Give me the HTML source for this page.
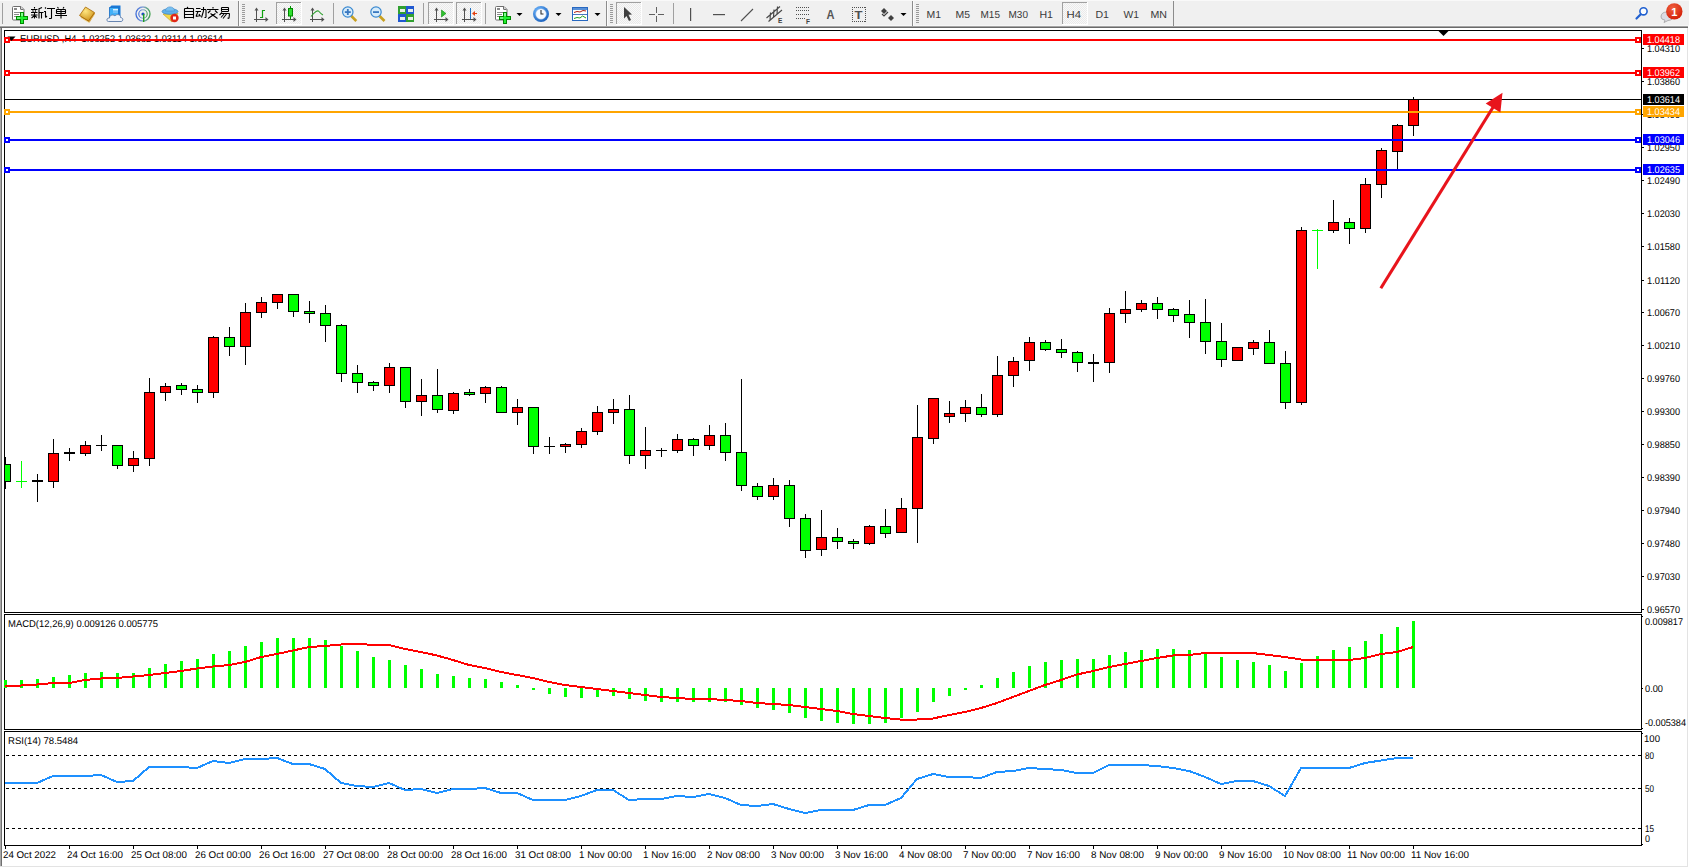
<!DOCTYPE html>
<html><head><meta charset="utf-8"><title>MT4</title>
<style>
html,body{margin:0;padding:0;background:#fff;overflow:hidden;}
svg{display:block;}
text{font-family:"Liberation Sans",sans-serif;}
.g text{text-rendering:geometricPrecision;}
</style></head><body>
<svg width="1689" height="868" viewBox="0 0 1689 868">
<rect x="0" y="0" width="1689" height="868" fill="#ffffff" />
<rect x="0" y="0" width="1689" height="26" fill="#f0f0f0" />
<rect x="0" y="0" width="1689" height="1" fill="#f9f9f9" />
<rect x="0" y="25" width="1689" height="1" fill="#f6f6f6" />
<rect x="0" y="26" width="1688" height="1" fill="#a4a4a4" />
<rect x="0" y="27" width="1688" height="1" fill="#6a6a6a" />
<rect x="1688" y="26" width="1" height="2" fill="#ffffff" />
<rect x="0" y="28" width="1" height="838" fill="#a8a8a8" />
<rect x="1" y="28" width="1" height="838" fill="#707070" />
<rect x="1687" y="28" width="1" height="839" fill="#e3e3e3" />
<rect x="0" y="866" width="1688" height="1" fill="#e3e3e3" />
<defs><pattern id="dither" width="2" height="2" patternUnits="userSpaceOnUse"><rect width="2" height="2" fill="#f9f9f9"/><rect width="1" height="1" fill="#eaeaea"/><rect x="1" y="1" width="1" height="1" fill="#eaeaea"/></pattern><radialGradient id="gold" cx="0.4" cy="0.3" r="0.8"><stop offset="0" stop-color="#ffe680"/><stop offset="1" stop-color="#c88a10"/></radialGradient><linearGradient id="grn" x1="0" y1="0" x2="0" y2="1"><stop offset="0" stop-color="#80ff80"/><stop offset="1" stop-color="#00a000"/></linearGradient><radialGradient id="badge" cx="0.4" cy="0.3" r="0.8"><stop offset="0" stop-color="#f06040"/><stop offset="1" stop-color="#d01800"/></radialGradient></defs>
<rect x="2" y="3" width="1" height="21" fill="#a0a0a0"/>
<path d="M12.5,7.5 q0,-1 1,-1 h7.5 l3,3 v9.5 q0,1 -1,1 h-9.5 q-1,0 -1,-1 z" fill="#ffffff" stroke="#6e6e6e" stroke-width="1"/>
<path d="M20.5,6.5 v2.5 q0,0.5 0.5,0.5 h2.5" fill="#d8d8d8" stroke="#6e6e6e" stroke-width="1"/>
<rect x="14" y="8" width="3" height="2" fill="#8a8a8a"/>
<rect x="14" y="12" width="6" height="1" fill="#8a8a8a"/><rect x="14" y="14" width="5" height="1" fill="#8a8a8a"/><rect x="14" y="16" width="5" height="1" fill="#8a8a8a"/>
<g shape-rendering="crispEdges"><rect x="20" y="12" width="4" height="12" fill="#008a00"/><rect x="16" y="16" width="12" height="4" fill="#008a00"/><rect x="21" y="13" width="2" height="10" fill="#20f030"/><rect x="17" y="17" width="10" height="2" fill="#20f030"/><rect x="21" y="13" width="2" height="3" fill="#80ff90"/><rect x="17" y="17" width="3" height="2" fill="#70f080"/></g>
<path d="M34.5,7L34.5,8.5 M31,9.5L37.5,9.5 M32.5,10.5L33.5,11.5 M36,10.5L35,11.5 M31,12.5L37.5,12.5 M31,15L37.5,15 M34.5,12.5L34.5,18.5 M34,16L31.5,18 M35,16L37,17.5 M42,7.5L38.5,9 M39,9L39,18.5 M39,12.5L43.5,12.5 M41.5,12.5L41.5,18.5 M45,7.5L46,8.5 M44,11.5L46,11.5 M45.5,11.5L45.5,17.5 M45.5,17.5L47,16 M47,8.5L55,8.5 M51.5,8.5L51.5,18.5 M51.5,18.5L49,18.5 M57.5,7L58.5,8.5 M64,7L63,8.5 M56.5,9.5L65.5,9.5 M56.5,11.5L65.5,11.5 M56.5,13.5L65.5,13.5 M56.5,9.5L56.5,13.5 M65.5,9.5L65.5,13.5 M61,9.5L61,18.5 M55,15.5L67,15.5 M188,7L187,8 M184.5,8.5L184.5,18.5 M193.5,8.5L193.5,18.5 M184.5,8.5L193.5,8.5 M184.5,11.5L193.5,11.5 M184.5,14.5L193.5,14.5 M184.5,17.5L193.5,17.5 M196.0,8.5L200.5,8.5 M195.5,11.5L201.0,11.5 M198.0,11.5L196.0,16.5 M196.0,16.5L200.5,15.5 M199.0,14L200.5,16.5 M201.0,9.5L206.0,9.5 M206.0,9.5L206.0,17.5 M206.0,17.5L204.5,17.5 M203.5,7L203.5,11 M203.5,11L201.5,17.5 M213,7L213,8.5 M207,9.5L218.5,9.5 M210.5,10.5L208,13 M215,10.5L217.5,13 M210.5,13.5L217.5,18.5 M215.5,13.5L208,18.5 M221.5,7.5L228.5,7.5 M221.5,9.5L228.5,9.5 M221.5,11.5L228.5,11.5 M221.5,7.5L221.5,11.5 M228.5,7.5L228.5,11.5 M222,12.5L219.5,15 M221.5,13.5L229.5,13.5 M229.5,13.5L229,18.5 M229,18.5L227.5,18 M224,14L221,17.5 M226.5,14L223,18.5" stroke="#000" stroke-width="1.1" fill="none"/>
<path d="M80.5,17 L86,8 L95,13.5 L89.5,22.5 Z" fill="#b87810"/>
<path d="M79.5,15.5 L85.5,7 L94.5,12.5 L88.5,21 Z" fill="url(#gold)" stroke="#a86a08" stroke-width="0.8"/>
<path d="M81,17.8 L88.8,22.3 L94.8,14" fill="none" stroke="#f0d070" stroke-width="0.7"/>
<path d="M109.5,7.5 L111.5,5.5 H120.5 V16 L118.5,18 H109.5 Z" fill="#1878d8"/>
<path d="M109.5,7.5 H118.5 V18 H109.5 Z" fill="#40b0f8" stroke="#1868c0" stroke-width="0.7"/>
<rect x="113" y="9" width="5" height="1.5" fill="#e0f0ff"/><rect x="113" y="11.5" width="5" height="1" fill="#a0d0f8"/>
<path d="M108.5,21.5 C106,21.5 106.5,17.5 109.5,18 C109.5,15 113,14 115,16 C116.5,13.5 121,14.5 120.5,17.5 C123.5,17.5 123.5,21.5 121,21.5 Z" fill="#eef2f8" stroke="#5878a8" stroke-width="0.9"/>
<defs><linearGradient id="sig" x1="0" y1="0" x2="1" y2="0"><stop offset="0" stop-color="#3a6ad8"/><stop offset="0.5" stop-color="#90a8d8"/><stop offset="1" stop-color="#40a050"/></linearGradient></defs>
<circle cx="143" cy="14" r="7" fill="none" stroke="url(#sig)" stroke-width="1.3"/>
<circle cx="143" cy="14" r="4.2" fill="none" stroke="url(#sig)" stroke-width="1.1"/>
<circle cx="143" cy="14" r="1.6" fill="#2050c0"/>
<rect x="143" y="14" width="1.4" height="8" fill="#20a020"/>
<path d="M163,14 L178,13.5 L172,22 Z" fill="#f4d848" stroke="#c8a028" stroke-width="0.7"/>
<ellipse cx="170" cy="11.5" rx="8" ry="2.8" fill="#60b0e8" stroke="#3880c0" stroke-width="0.7"/>
<path d="M165.5,11 C165.5,5.5 174.5,5.5 174.5,11 Z" fill="#78c0f0" stroke="#4890d0" stroke-width="0.6"/>
<circle cx="174.5" cy="18" r="4.2" fill="#e02818"/>
<rect x="173" y="16.5" width="3" height="3" fill="#fff"/>
<rect x="238" y="1" width="1" height="25" fill="#8c8c8c"/>
<rect x="239" y="1" width="1" height="25" fill="#fbfbfb"/>
<rect x="242" y="4" width="3" height="1" fill="#9a9a9a"/>
<rect x="242" y="6" width="3" height="1" fill="#9a9a9a"/>
<rect x="242" y="8" width="3" height="1" fill="#9a9a9a"/>
<rect x="242" y="10" width="3" height="1" fill="#9a9a9a"/>
<rect x="242" y="12" width="3" height="1" fill="#9a9a9a"/>
<rect x="242" y="14" width="3" height="1" fill="#9a9a9a"/>
<rect x="242" y="16" width="3" height="1" fill="#9a9a9a"/>
<rect x="242" y="18" width="3" height="1" fill="#9a9a9a"/>
<rect x="242" y="20" width="3" height="1" fill="#9a9a9a"/>
<rect x="242" y="22" width="3" height="1" fill="#9a9a9a"/>
<rect x="256" y="9" width="1" height="13" fill="#505050"/>
<polygon points="254.5,10.5 256.5,7.5 258.5,10.5" fill="#505050"/>
<rect x="254" y="19" width="13" height="1" fill="#505050"/>
<polygon points="265.5,17 268.5,19.5 265.5,22" fill="#505050"/>
<path d="M262.5,10 v8 M262.5,10.5 h2.5 M260,17.5 h2.5" stroke="#10a010" stroke-width="1.2" fill="none"/>
<rect x="276" y="2" width="25" height="22" fill="url(#dither)"/>
<rect x="276" y="2" width="25" height="1" fill="#a0a0a0"/>
<rect x="276" y="2" width="1" height="22" fill="#a0a0a0"/>
<rect x="301" y="2" width="1" height="23" fill="#ffffff"/>
<rect x="276" y="24" width="26" height="1" fill="#ffffff"/>
<rect x="284" y="9" width="1" height="13" fill="#505050"/>
<polygon points="282.5,10.5 284.5,7.5 286.5,10.5" fill="#505050"/>
<rect x="282" y="19" width="13" height="1" fill="#505050"/>
<polygon points="293.5,17 296.5,19.5 293.5,22" fill="#505050"/>
<rect x="290" y="6" width="1" height="13" fill="#009000"/>
<rect x="288.5" y="8.5" width="4" height="7.5" fill="#30e030" stroke="#008800" stroke-width="1"/>
<rect x="312" y="9" width="1" height="13" fill="#505050"/>
<polygon points="310.5,10.5 312.5,7.5 314.5,10.5" fill="#505050"/>
<rect x="310" y="19" width="13" height="1" fill="#505050"/>
<polygon points="321.5,17 324.5,19.5 321.5,22" fill="#505050"/>
<path d="M311,16.5 Q317,9 319,11.5 T323,15" fill="none" stroke="#30a030" stroke-width="1.1"/>
<rect x="333" y="3" width="1" height="21" fill="#a0a0a0"/>
<line x1="351.3" y1="16" x2="356.3" y2="21" stroke="#c8a020" stroke-width="2.6"/>
<circle cx="347.8" cy="12" r="5.2" fill="#d8ecfa" stroke="#3a88d0" stroke-width="1.2"/>
<rect x="344.8" y="11.2" width="6" height="1.8" fill="#3a78c0"/>
<rect x="346.90000000000003" y="9" width="1.8" height="6" fill="#3a78c0"/>
<line x1="379.5" y1="16" x2="384.5" y2="21" stroke="#c8a020" stroke-width="2.6"/>
<circle cx="376" cy="12" r="5.2" fill="#d8ecfa" stroke="#3a88d0" stroke-width="1.2"/>
<rect x="373" y="11.2" width="6" height="1.8" fill="#3a78c0"/>
<rect x="398" y="6" width="8" height="8" fill="#30a030"/><rect x="406" y="6" width="8" height="8" fill="#2058d0"/>
<rect x="398" y="14" width="8" height="8" fill="#2058d0"/><rect x="406" y="14" width="8" height="8" fill="#30a030"/>
<rect x="400" y="9" width="5" height="3" fill="#e8f0e8"/>
<rect x="408" y="9" width="5" height="3" fill="#e8f0e8"/>
<rect x="400" y="17" width="5" height="3" fill="#e8f0e8"/>
<rect x="408" y="17" width="5" height="3" fill="#e8f0e8"/>
<rect x="423" y="3" width="1" height="21" fill="#a0a0a0"/>
<rect x="428" y="2" width="25" height="22" fill="url(#dither)"/>
<rect x="428" y="2" width="25" height="1" fill="#a0a0a0"/>
<rect x="428" y="2" width="1" height="22" fill="#a0a0a0"/>
<rect x="453" y="2" width="1" height="23" fill="#ffffff"/>
<rect x="428" y="24" width="26" height="1" fill="#ffffff"/>
<rect x="436" y="9" width="1" height="13" fill="#505050"/>
<polygon points="434.5,10.5 436.5,7.5 438.5,10.5" fill="#505050"/>
<rect x="434" y="19" width="13" height="1" fill="#505050"/>
<polygon points="445.5,17 448.5,19.5 445.5,22" fill="#505050"/>
<polygon points="441.5,10 446,13.5 441.5,17" fill="#30c030" stroke="#109010" stroke-width="0.6"/>
<rect x="456" y="2" width="25" height="22" fill="url(#dither)"/>
<rect x="456" y="2" width="25" height="1" fill="#a0a0a0"/>
<rect x="456" y="2" width="1" height="22" fill="#a0a0a0"/>
<rect x="481" y="2" width="1" height="23" fill="#ffffff"/>
<rect x="456" y="24" width="26" height="1" fill="#ffffff"/>
<rect x="464" y="9" width="1" height="13" fill="#505050"/>
<polygon points="462.5,10.5 464.5,7.5 466.5,10.5" fill="#505050"/>
<rect x="462" y="19" width="13" height="1" fill="#505050"/>
<polygon points="473.5,17 476.5,19.5 473.5,22" fill="#505050"/>
<rect x="470" y="8" width="1" height="11" fill="#2070c0"/>
<polygon points="472,13.5 475,11 475,16" fill="#e04010"/><rect x="474" y="13" width="3" height="1" fill="#e04010"/>
<rect x="485" y="3" width="1" height="21" fill="#a0a0a0"/>
<path d="M495.5,7.5 q0,-1 1,-1 h7.5 l3,3 v9.5 q0,1 -1,1 h-9.5 q-1,0 -1,-1 z" fill="#ffffff" stroke="#6e6e6e" stroke-width="1"/>
<path d="M503.5,6.5 v2.5 q0,0.5 0.5,0.5 h2.5" fill="#d8d8d8" stroke="#6e6e6e" stroke-width="1"/>
<rect x="497" y="8" width="3" height="2" fill="#8a8a8a"/>
<rect x="497" y="12" width="6" height="1" fill="#8a8a8a"/><rect x="497" y="14" width="5" height="1" fill="#8a8a8a"/><rect x="497" y="16" width="5" height="1" fill="#8a8a8a"/>
<g shape-rendering="crispEdges"><rect x="503" y="12" width="4" height="12" fill="#008a00"/><rect x="499" y="16" width="12" height="4" fill="#008a00"/><rect x="504" y="13" width="2" height="10" fill="#20f030"/><rect x="500" y="17" width="10" height="2" fill="#20f030"/><rect x="504" y="13" width="2" height="3" fill="#80ff90"/><rect x="500" y="17" width="3" height="2" fill="#70f080"/></g>
<polygon points="516.5,13 522.5,13 519.5,16" fill="#000"/>
<defs><radialGradient id="clk" cx="0.35" cy="0.3" r="0.9"><stop offset="0" stop-color="#70b8ff"/><stop offset="1" stop-color="#0a50b0"/></radialGradient></defs>
<circle cx="541" cy="14" r="8" fill="url(#clk)"/>
<circle cx="541" cy="14" r="5.3" fill="#f8fbff" stroke="#9ab8e0" stroke-width="0.5"/>
<path d="M541,10 V14 H543.5" stroke="#303030" stroke-width="1.1" fill="none"/>
<polygon points="555.5,13 561.5,13 558.5,16" fill="#000"/>
<rect x="572.5" y="7.5" width="15" height="13" fill="#fff" stroke="#2868c0" stroke-width="1"/>
<rect x="573" y="8" width="14" height="2" fill="#5890d8"/><rect x="573" y="14" width="14" height="1" fill="#4878c0"/>
<path d="M574,12.5 l3,-1 l3,0.5 l3,-1.5 l3,0.5" stroke="#b02010" stroke-width="1" fill="none"/>
<path d="M574,18.5 l3,-1 l3,0.5 l2.5,-2 l3.5,2" stroke="#20a020" stroke-width="1" fill="none"/>
<polygon points="594.5,13 600.5,13 597.5,16" fill="#000"/>
<rect x="606" y="1" width="1" height="25" fill="#8c8c8c"/>
<rect x="607" y="1" width="1" height="25" fill="#fbfbfb"/>
<rect x="610" y="4" width="3" height="1" fill="#9a9a9a"/>
<rect x="610" y="6" width="3" height="1" fill="#9a9a9a"/>
<rect x="610" y="8" width="3" height="1" fill="#9a9a9a"/>
<rect x="610" y="10" width="3" height="1" fill="#9a9a9a"/>
<rect x="610" y="12" width="3" height="1" fill="#9a9a9a"/>
<rect x="610" y="14" width="3" height="1" fill="#9a9a9a"/>
<rect x="610" y="16" width="3" height="1" fill="#9a9a9a"/>
<rect x="610" y="18" width="3" height="1" fill="#9a9a9a"/>
<rect x="610" y="20" width="3" height="1" fill="#9a9a9a"/>
<rect x="610" y="22" width="3" height="1" fill="#9a9a9a"/>
<rect x="616" y="2" width="25" height="22" fill="url(#dither)"/>
<rect x="616" y="2" width="25" height="1" fill="#a0a0a0"/>
<rect x="616" y="2" width="1" height="22" fill="#a0a0a0"/>
<rect x="641" y="2" width="1" height="23" fill="#ffffff"/>
<rect x="616" y="24" width="26" height="1" fill="#ffffff"/>
<polygon points="624,7 632,14.5 628.5,14.8 631,20 629,21 626.5,16 624,18.5" fill="#404040"/>
<rect x="656" y="7" width="1" height="6" fill="#606060"/><rect x="656" y="16" width="1" height="6" fill="#606060"/>
<rect x="649" y="14" width="6" height="1" fill="#606060"/><rect x="658" y="14" width="6" height="1" fill="#606060"/>
<rect x="673" y="3" width="1" height="21" fill="#a0a0a0"/>
<rect x="690" y="8" width="1.2" height="13" fill="#505050"/>
<rect x="713" y="14" width="12" height="1.2" fill="#505050"/>
<line x1="741" y1="21" x2="753" y2="9" stroke="#505050" stroke-width="1.1"/>
<path d="M766.5,18 L780,6.5 M768.5,21.5 L782,10 M770.5,12.5 L770,20 M774,9.5 L773.5,17 M777.5,6.5 L777,14" stroke="#484848" stroke-width="1.15" fill="none"/>
<text x="778" y="23" font-size="6.5" font-weight="bold" fill="#404040">E</text>
<rect x="796" y="7" width="1" height="1" fill="#505050"/>
<rect x="798" y="7" width="1" height="1" fill="#505050"/>
<rect x="800" y="7" width="1" height="1" fill="#505050"/>
<rect x="802" y="7" width="1" height="1" fill="#505050"/>
<rect x="804" y="7" width="1" height="1" fill="#505050"/>
<rect x="806" y="7" width="1" height="1" fill="#505050"/>
<rect x="808" y="7" width="1" height="1" fill="#505050"/>
<rect x="796" y="10" width="1" height="1" fill="#505050"/>
<rect x="798" y="10" width="1" height="1" fill="#505050"/>
<rect x="800" y="10" width="1" height="1" fill="#505050"/>
<rect x="802" y="10" width="1" height="1" fill="#505050"/>
<rect x="804" y="10" width="1" height="1" fill="#505050"/>
<rect x="806" y="10" width="1" height="1" fill="#505050"/>
<rect x="808" y="10" width="1" height="1" fill="#505050"/>
<rect x="796" y="14" width="1" height="1" fill="#505050"/>
<rect x="798" y="14" width="1" height="1" fill="#505050"/>
<rect x="800" y="14" width="1" height="1" fill="#505050"/>
<rect x="802" y="14" width="1" height="1" fill="#505050"/>
<rect x="804" y="14" width="1" height="1" fill="#505050"/>
<rect x="806" y="14" width="1" height="1" fill="#505050"/>
<rect x="808" y="14" width="1" height="1" fill="#505050"/>
<rect x="796" y="18" width="1" height="1" fill="#505050"/>
<rect x="798" y="18" width="1" height="1" fill="#505050"/>
<rect x="800" y="18" width="1" height="1" fill="#505050"/>
<rect x="802" y="18" width="1" height="1" fill="#505050"/>
<rect x="804" y="18" width="1" height="1" fill="#505050"/>
<text x="806" y="23.5" font-size="6.5" font-weight="bold" fill="#404040">F</text>
<text x="826.5" y="19" font-size="12" font-weight="bold" fill="#555555" textLength="8" lengthAdjust="spacingAndGlyphs">A</text>
<rect x="852" y="7" width="1" height="1" fill="#505050"/><rect x="852" y="21" width="1" height="1" fill="#505050"/>
<rect x="854" y="7" width="1" height="1" fill="#505050"/><rect x="854" y="21" width="1" height="1" fill="#505050"/>
<rect x="856" y="7" width="1" height="1" fill="#505050"/><rect x="856" y="21" width="1" height="1" fill="#505050"/>
<rect x="858" y="7" width="1" height="1" fill="#505050"/><rect x="858" y="21" width="1" height="1" fill="#505050"/>
<rect x="860" y="7" width="1" height="1" fill="#505050"/><rect x="860" y="21" width="1" height="1" fill="#505050"/>
<rect x="862" y="7" width="1" height="1" fill="#505050"/><rect x="862" y="21" width="1" height="1" fill="#505050"/>
<rect x="864" y="7" width="1" height="1" fill="#505050"/><rect x="864" y="21" width="1" height="1" fill="#505050"/>
<rect x="852" y="7" width="1" height="1" fill="#505050"/><rect x="865" y="7" width="1" height="1" fill="#505050"/>
<rect x="852" y="9" width="1" height="1" fill="#505050"/><rect x="865" y="9" width="1" height="1" fill="#505050"/>
<rect x="852" y="11" width="1" height="1" fill="#505050"/><rect x="865" y="11" width="1" height="1" fill="#505050"/>
<rect x="852" y="13" width="1" height="1" fill="#505050"/><rect x="865" y="13" width="1" height="1" fill="#505050"/>
<rect x="852" y="15" width="1" height="1" fill="#505050"/><rect x="865" y="15" width="1" height="1" fill="#505050"/>
<rect x="852" y="17" width="1" height="1" fill="#505050"/><rect x="865" y="17" width="1" height="1" fill="#505050"/>
<rect x="852" y="19" width="1" height="1" fill="#505050"/><rect x="865" y="19" width="1" height="1" fill="#505050"/>
<rect x="852" y="21" width="1" height="1" fill="#505050"/><rect x="865" y="21" width="1" height="1" fill="#505050"/>
<text x="854.5" y="18.5" font-size="11" font-weight="bold" fill="#505050" textLength="8" lengthAdjust="spacingAndGlyphs">T</text>
<polygon points="884,8 887,11 884,14 881,11" fill="#404040"/><polygon points="891,15 894,18 891,21 888,18" fill="#404040"/>
<path d="M882,14 l2,2 l4,-4" stroke="#404040" stroke-width="1.2" fill="none"/>
<polygon points="900.5,13 906.5,13 903.5,16" fill="#000"/>
<rect x="912" y="1" width="1" height="25" fill="#8c8c8c"/>
<rect x="913" y="1" width="1" height="25" fill="#fbfbfb"/>
<rect x="916" y="4" width="3" height="1" fill="#9a9a9a"/>
<rect x="916" y="6" width="3" height="1" fill="#9a9a9a"/>
<rect x="916" y="8" width="3" height="1" fill="#9a9a9a"/>
<rect x="916" y="10" width="3" height="1" fill="#9a9a9a"/>
<rect x="916" y="12" width="3" height="1" fill="#9a9a9a"/>
<rect x="916" y="14" width="3" height="1" fill="#9a9a9a"/>
<rect x="916" y="16" width="3" height="1" fill="#9a9a9a"/>
<rect x="916" y="18" width="3" height="1" fill="#9a9a9a"/>
<rect x="916" y="20" width="3" height="1" fill="#9a9a9a"/>
<rect x="916" y="22" width="3" height="1" fill="#9a9a9a"/>
<rect x="1062" y="2" width="25" height="22" fill="url(#dither)"/>
<rect x="1062" y="2" width="25" height="1" fill="#a0a0a0"/>
<rect x="1062" y="2" width="1" height="22" fill="#a0a0a0"/>
<rect x="1087" y="2" width="1" height="23" fill="#ffffff"/>
<rect x="1062" y="24" width="26" height="1" fill="#ffffff"/>
<text x="926.5" y="18.3" font-size="10.2" fill="#3a3a3a" text-rendering="geometricPrecision" textLength="14.5" lengthAdjust="spacingAndGlyphs">M1</text>
<text x="955.5" y="18.3" font-size="10.2" fill="#3a3a3a" text-rendering="geometricPrecision" textLength="14.5" lengthAdjust="spacingAndGlyphs">M5</text>
<text x="980.5" y="18.3" font-size="10.2" fill="#3a3a3a" text-rendering="geometricPrecision" textLength="19.5" lengthAdjust="spacingAndGlyphs">M15</text>
<text x="1008.5" y="18.3" font-size="10.2" fill="#3a3a3a" text-rendering="geometricPrecision" textLength="19.5" lengthAdjust="spacingAndGlyphs">M30</text>
<text x="1039.5" y="18.3" font-size="10.2" fill="#3a3a3a" text-rendering="geometricPrecision" textLength="13.5" lengthAdjust="spacingAndGlyphs">H1</text>
<text x="1066.5" y="18.3" font-size="10.2" fill="#3a3a3a" text-rendering="geometricPrecision" textLength="14.5" lengthAdjust="spacingAndGlyphs">H4</text>
<text x="1095.5" y="18.3" font-size="10.2" fill="#3a3a3a" text-rendering="geometricPrecision" textLength="13.5" lengthAdjust="spacingAndGlyphs">D1</text>
<text x="1123.5" y="18.3" font-size="10.2" fill="#3a3a3a" text-rendering="geometricPrecision" textLength="15.5" lengthAdjust="spacingAndGlyphs">W1</text>
<text x="1150.5" y="18.3" font-size="10.2" fill="#3a3a3a" text-rendering="geometricPrecision" textLength="16.5" lengthAdjust="spacingAndGlyphs">MN</text>
<rect x="1173" y="1" width="1" height="25" fill="#8c8c8c"/>
<circle cx="1643.5" cy="11.3" r="3.6" fill="#fbfdff" stroke="#2060d0" stroke-width="1.6"/>
<line x1="1640.5" y1="14.5" x2="1636.5" y2="18.5" stroke="#2060d0" stroke-width="2.2" stroke-linecap="round"/>
<path d="M1661,17 q0,-5 6,-5 q6,0 6,5 q0,3 -5,3.5 l-4,2 l1,-2.3 q-4,-0.7 -4,-3.2z" fill="#dcdce4" stroke="#a0a0a0" stroke-width="0.8"/>
<circle cx="1674.3" cy="11.4" r="8.2" fill="url(#badge)"/>
<text x="1671.3" y="15.8" font-size="11" font-weight="bold" fill="#fff">1</text>
<g class="g">
<defs><clipPath id="main"><rect x="5" y="31" width="1636" height="581"/></clipPath></defs>
<g shape-rendering="crispEdges">
<rect x="4" y="30" width="1638" height="1" fill="#000" />
<rect x="4" y="612" width="1638" height="1" fill="#000" />
<rect x="4" y="30" width="1" height="583" fill="#000" />
<rect x="1641" y="30" width="1" height="583" fill="#000" />
<rect x="4" y="614" width="1638" height="1" fill="#000" />
<rect x="4" y="729" width="1638" height="1" fill="#000" />
<rect x="4" y="614" width="1" height="116" fill="#000" />
<rect x="1641" y="614" width="1" height="116" fill="#000" />
<rect x="4" y="731" width="1638" height="1" fill="#000" />
<rect x="4" y="845" width="1638" height="1" fill="#000" />
<rect x="4" y="731" width="1" height="115" fill="#000" />
<rect x="1641" y="731" width="1" height="115" fill="#000" />
</g>
<text x="20" y="42" font-size="9.8" fill="#000" textLength="203" lengthAdjust="spacingAndGlyphs" >EURUSD&#160;,H4&#160;&#160;1.03252&#160;1.03632&#160;1.03114&#160;1.03614</text>
<g shape-rendering="crispEdges" clip-path="url(#main)">
<rect x="5" y="457" width="1" height="32" fill="#000" />
<rect x="0" y="464" width="11" height="18" fill="#000" />
<rect x="1" y="465" width="9" height="16" fill="#00ff00" />
<rect x="21" y="461" width="1" height="27" fill="#00ff00" />
<rect x="16" y="481" width="11" height="1" fill="#00ff00" />
<rect x="37" y="474" width="1" height="28" fill="#000" />
<rect x="32" y="480" width="11" height="2" fill="#000" />
<rect x="53" y="439" width="1" height="49" fill="#000" />
<rect x="48" y="453" width="11" height="29" fill="#000" />
<rect x="49" y="454" width="9" height="27" fill="#ff0000" />
<rect x="69" y="448" width="1" height="13" fill="#000" />
<rect x="64" y="452" width="11" height="2" fill="#000" />
<rect x="85" y="441" width="1" height="15" fill="#000" />
<rect x="80" y="445" width="11" height="9" fill="#000" />
<rect x="81" y="446" width="9" height="7" fill="#ff0000" />
<rect x="101" y="435" width="1" height="16" fill="#000" />
<rect x="96" y="445" width="11" height="1" fill="#000" />
<rect x="117" y="445" width="1" height="24" fill="#000" />
<rect x="112" y="445" width="11" height="21" fill="#000" />
<rect x="113" y="446" width="9" height="19" fill="#00ff00" />
<rect x="133" y="451" width="1" height="21" fill="#000" />
<rect x="128" y="458" width="11" height="8" fill="#000" />
<rect x="129" y="459" width="9" height="6" fill="#ff0000" />
<rect x="149" y="378" width="1" height="88" fill="#000" />
<rect x="144" y="392" width="11" height="67" fill="#000" />
<rect x="145" y="393" width="9" height="65" fill="#ff0000" />
<rect x="165" y="383" width="1" height="18" fill="#000" />
<rect x="160" y="386" width="11" height="7" fill="#000" />
<rect x="161" y="387" width="9" height="5" fill="#ff0000" />
<rect x="181" y="383" width="1" height="12" fill="#000" />
<rect x="176" y="385" width="11" height="5" fill="#000" />
<rect x="177" y="386" width="9" height="3" fill="#00ff00" />
<rect x="197" y="385" width="1" height="18" fill="#000" />
<rect x="192" y="389" width="11" height="4" fill="#000" />
<rect x="193" y="390" width="9" height="2" fill="#00ff00" />
<rect x="213" y="336" width="1" height="62" fill="#000" />
<rect x="208" y="337" width="11" height="56" fill="#000" />
<rect x="209" y="338" width="9" height="54" fill="#ff0000" />
<rect x="229" y="327" width="1" height="29" fill="#000" />
<rect x="224" y="337" width="11" height="10" fill="#000" />
<rect x="225" y="338" width="9" height="8" fill="#00ff00" />
<rect x="245" y="303" width="1" height="62" fill="#000" />
<rect x="240" y="312" width="11" height="35" fill="#000" />
<rect x="241" y="313" width="9" height="33" fill="#ff0000" />
<rect x="261" y="297" width="1" height="21" fill="#000" />
<rect x="256" y="302" width="11" height="11" fill="#000" />
<rect x="257" y="303" width="9" height="9" fill="#ff0000" />
<rect x="277" y="294" width="1" height="15" fill="#000" />
<rect x="272" y="294" width="11" height="9" fill="#000" />
<rect x="273" y="295" width="9" height="7" fill="#ff0000" />
<rect x="293" y="294" width="1" height="23" fill="#000" />
<rect x="288" y="294" width="11" height="18" fill="#000" />
<rect x="289" y="295" width="9" height="16" fill="#00ff00" />
<rect x="309" y="301" width="1" height="22" fill="#000" />
<rect x="304" y="311" width="11" height="3" fill="#000" />
<rect x="305" y="312" width="9" height="1" fill="#00ff00" />
<rect x="325" y="305" width="1" height="37" fill="#000" />
<rect x="320" y="313" width="11" height="13" fill="#000" />
<rect x="321" y="314" width="9" height="11" fill="#00ff00" />
<rect x="341" y="324" width="1" height="58" fill="#000" />
<rect x="336" y="325" width="11" height="49" fill="#000" />
<rect x="337" y="326" width="9" height="47" fill="#00ff00" />
<rect x="357" y="365" width="1" height="28" fill="#000" />
<rect x="352" y="373" width="11" height="10" fill="#000" />
<rect x="353" y="374" width="9" height="8" fill="#00ff00" />
<rect x="373" y="381" width="1" height="10" fill="#000" />
<rect x="368" y="382" width="11" height="4" fill="#000" />
<rect x="369" y="383" width="9" height="2" fill="#00ff00" />
<rect x="389" y="363" width="1" height="30" fill="#000" />
<rect x="384" y="367" width="11" height="19" fill="#000" />
<rect x="385" y="368" width="9" height="17" fill="#ff0000" />
<rect x="405" y="367" width="1" height="41" fill="#000" />
<rect x="400" y="367" width="11" height="35" fill="#000" />
<rect x="401" y="368" width="9" height="33" fill="#00ff00" />
<rect x="421" y="379" width="1" height="37" fill="#000" />
<rect x="416" y="395" width="11" height="7" fill="#000" />
<rect x="417" y="396" width="9" height="5" fill="#ff0000" />
<rect x="437" y="369" width="1" height="44" fill="#000" />
<rect x="432" y="395" width="11" height="15" fill="#000" />
<rect x="433" y="396" width="9" height="13" fill="#00ff00" />
<rect x="453" y="392" width="1" height="22" fill="#000" />
<rect x="448" y="393" width="11" height="18" fill="#000" />
<rect x="449" y="394" width="9" height="16" fill="#ff0000" />
<rect x="469" y="389" width="1" height="7" fill="#000" />
<rect x="464" y="392" width="11" height="3" fill="#000" />
<rect x="465" y="393" width="9" height="1" fill="#00ff00" />
<rect x="485" y="386" width="1" height="17" fill="#000" />
<rect x="480" y="387" width="11" height="7" fill="#000" />
<rect x="481" y="388" width="9" height="5" fill="#ff0000" />
<rect x="501" y="386" width="1" height="27" fill="#000" />
<rect x="496" y="387" width="11" height="26" fill="#000" />
<rect x="497" y="388" width="9" height="24" fill="#00ff00" />
<rect x="517" y="399" width="1" height="26" fill="#000" />
<rect x="512" y="407" width="11" height="6" fill="#000" />
<rect x="513" y="408" width="9" height="4" fill="#ff0000" />
<rect x="533" y="407" width="1" height="47" fill="#000" />
<rect x="528" y="407" width="11" height="40" fill="#000" />
<rect x="529" y="408" width="9" height="38" fill="#00ff00" />
<rect x="549" y="437" width="1" height="17" fill="#000" />
<rect x="544" y="446" width="11" height="1" fill="#000" />
<rect x="565" y="443" width="1" height="10" fill="#000" />
<rect x="560" y="444" width="11" height="3" fill="#000" />
<rect x="561" y="445" width="9" height="1" fill="#ff0000" />
<rect x="581" y="428" width="1" height="20" fill="#000" />
<rect x="576" y="431" width="11" height="14" fill="#000" />
<rect x="577" y="432" width="9" height="12" fill="#ff0000" />
<rect x="597" y="406" width="1" height="29" fill="#000" />
<rect x="592" y="412" width="11" height="20" fill="#000" />
<rect x="593" y="413" width="9" height="18" fill="#ff0000" />
<rect x="613" y="399" width="1" height="25" fill="#000" />
<rect x="608" y="409" width="11" height="4" fill="#000" />
<rect x="609" y="410" width="9" height="2" fill="#ff0000" />
<rect x="629" y="395" width="1" height="69" fill="#000" />
<rect x="624" y="409" width="11" height="47" fill="#000" />
<rect x="625" y="410" width="9" height="45" fill="#00ff00" />
<rect x="645" y="427" width="1" height="42" fill="#000" />
<rect x="640" y="450" width="11" height="6" fill="#000" />
<rect x="641" y="451" width="9" height="4" fill="#ff0000" />
<rect x="661" y="448" width="1" height="9" fill="#000" />
<rect x="656" y="450" width="11" height="1" fill="#000" />
<rect x="677" y="434" width="1" height="19" fill="#000" />
<rect x="672" y="439" width="11" height="12" fill="#000" />
<rect x="673" y="440" width="9" height="10" fill="#ff0000" />
<rect x="693" y="438" width="1" height="18" fill="#000" />
<rect x="688" y="439" width="11" height="7" fill="#000" />
<rect x="689" y="440" width="9" height="5" fill="#00ff00" />
<rect x="709" y="425" width="1" height="25" fill="#000" />
<rect x="704" y="435" width="11" height="11" fill="#000" />
<rect x="705" y="436" width="9" height="9" fill="#ff0000" />
<rect x="725" y="423" width="1" height="38" fill="#000" />
<rect x="720" y="435" width="11" height="18" fill="#000" />
<rect x="721" y="436" width="9" height="16" fill="#00ff00" />
<rect x="741" y="379" width="1" height="112" fill="#000" />
<rect x="736" y="452" width="11" height="34" fill="#000" />
<rect x="737" y="453" width="9" height="32" fill="#00ff00" />
<rect x="757" y="483" width="1" height="17" fill="#000" />
<rect x="752" y="486" width="11" height="11" fill="#000" />
<rect x="753" y="487" width="9" height="9" fill="#00ff00" />
<rect x="773" y="478" width="1" height="22" fill="#000" />
<rect x="768" y="485" width="11" height="12" fill="#000" />
<rect x="769" y="486" width="9" height="10" fill="#ff0000" />
<rect x="789" y="480" width="1" height="47" fill="#000" />
<rect x="784" y="485" width="11" height="34" fill="#000" />
<rect x="785" y="486" width="9" height="32" fill="#00ff00" />
<rect x="805" y="514" width="1" height="44" fill="#000" />
<rect x="800" y="518" width="11" height="33" fill="#000" />
<rect x="801" y="519" width="9" height="31" fill="#00ff00" />
<rect x="821" y="510" width="1" height="46" fill="#000" />
<rect x="816" y="537" width="11" height="13" fill="#000" />
<rect x="817" y="538" width="9" height="11" fill="#ff0000" />
<rect x="837" y="528" width="1" height="21" fill="#000" />
<rect x="832" y="537" width="11" height="5" fill="#000" />
<rect x="833" y="538" width="9" height="3" fill="#00ff00" />
<rect x="853" y="539" width="1" height="10" fill="#000" />
<rect x="848" y="541" width="11" height="3" fill="#000" />
<rect x="849" y="542" width="9" height="1" fill="#00ff00" />
<rect x="869" y="525" width="1" height="20" fill="#000" />
<rect x="864" y="526" width="11" height="18" fill="#000" />
<rect x="865" y="527" width="9" height="16" fill="#ff0000" />
<rect x="885" y="509" width="1" height="29" fill="#000" />
<rect x="880" y="526" width="11" height="8" fill="#000" />
<rect x="881" y="527" width="9" height="6" fill="#00ff00" />
<rect x="901" y="498" width="1" height="34" fill="#000" />
<rect x="896" y="508" width="11" height="25" fill="#000" />
<rect x="897" y="509" width="9" height="23" fill="#ff0000" />
<rect x="917" y="405" width="1" height="138" fill="#000" />
<rect x="912" y="437" width="11" height="72" fill="#000" />
<rect x="913" y="438" width="9" height="70" fill="#ff0000" />
<rect x="933" y="398" width="1" height="46" fill="#000" />
<rect x="928" y="398" width="11" height="41" fill="#000" />
<rect x="929" y="399" width="9" height="39" fill="#ff0000" />
<rect x="949" y="401" width="1" height="22" fill="#000" />
<rect x="944" y="413" width="11" height="4" fill="#000" />
<rect x="945" y="414" width="9" height="2" fill="#ff0000" />
<rect x="965" y="400" width="1" height="22" fill="#000" />
<rect x="960" y="407" width="11" height="7" fill="#000" />
<rect x="961" y="408" width="9" height="5" fill="#ff0000" />
<rect x="981" y="394" width="1" height="23" fill="#000" />
<rect x="976" y="407" width="11" height="8" fill="#000" />
<rect x="977" y="408" width="9" height="6" fill="#00ff00" />
<rect x="997" y="356" width="1" height="61" fill="#000" />
<rect x="992" y="375" width="11" height="40" fill="#000" />
<rect x="993" y="376" width="9" height="38" fill="#ff0000" />
<rect x="1013" y="357" width="1" height="30" fill="#000" />
<rect x="1008" y="361" width="11" height="15" fill="#000" />
<rect x="1009" y="362" width="9" height="13" fill="#ff0000" />
<rect x="1029" y="337" width="1" height="34" fill="#000" />
<rect x="1024" y="342" width="11" height="19" fill="#000" />
<rect x="1025" y="343" width="9" height="17" fill="#ff0000" />
<rect x="1045" y="340" width="1" height="11" fill="#000" />
<rect x="1040" y="342" width="11" height="8" fill="#000" />
<rect x="1041" y="343" width="9" height="6" fill="#00ff00" />
<rect x="1061" y="339" width="1" height="19" fill="#000" />
<rect x="1056" y="349" width="11" height="4" fill="#000" />
<rect x="1057" y="350" width="9" height="2" fill="#00ff00" />
<rect x="1077" y="351" width="1" height="21" fill="#000" />
<rect x="1072" y="352" width="11" height="11" fill="#000" />
<rect x="1073" y="353" width="9" height="9" fill="#00ff00" />
<rect x="1093" y="354" width="1" height="28" fill="#000" />
<rect x="1088" y="362" width="11" height="2" fill="#000" />
<rect x="1109" y="308" width="1" height="65" fill="#000" />
<rect x="1104" y="313" width="11" height="50" fill="#000" />
<rect x="1105" y="314" width="9" height="48" fill="#ff0000" />
<rect x="1125" y="291" width="1" height="32" fill="#000" />
<rect x="1120" y="309" width="11" height="5" fill="#000" />
<rect x="1121" y="310" width="9" height="3" fill="#ff0000" />
<rect x="1141" y="300" width="1" height="12" fill="#000" />
<rect x="1136" y="303" width="11" height="7" fill="#000" />
<rect x="1137" y="304" width="9" height="5" fill="#ff0000" />
<rect x="1157" y="297" width="1" height="22" fill="#000" />
<rect x="1152" y="303" width="11" height="7" fill="#000" />
<rect x="1153" y="304" width="9" height="5" fill="#00ff00" />
<rect x="1173" y="308" width="1" height="14" fill="#000" />
<rect x="1168" y="309" width="11" height="7" fill="#000" />
<rect x="1169" y="310" width="9" height="5" fill="#00ff00" />
<rect x="1189" y="300" width="1" height="38" fill="#000" />
<rect x="1184" y="314" width="11" height="9" fill="#000" />
<rect x="1185" y="315" width="9" height="7" fill="#00ff00" />
<rect x="1205" y="299" width="1" height="55" fill="#000" />
<rect x="1200" y="322" width="11" height="20" fill="#000" />
<rect x="1201" y="323" width="9" height="18" fill="#00ff00" />
<rect x="1221" y="323" width="1" height="44" fill="#000" />
<rect x="1216" y="341" width="11" height="19" fill="#000" />
<rect x="1217" y="342" width="9" height="17" fill="#00ff00" />
<rect x="1237" y="347" width="1" height="13" fill="#000" />
<rect x="1232" y="347" width="11" height="14" fill="#000" />
<rect x="1233" y="348" width="9" height="12" fill="#ff0000" />
<rect x="1253" y="340" width="1" height="15" fill="#000" />
<rect x="1248" y="342" width="11" height="7" fill="#000" />
<rect x="1249" y="343" width="9" height="5" fill="#ff0000" />
<rect x="1269" y="330" width="1" height="34" fill="#000" />
<rect x="1264" y="342" width="11" height="22" fill="#000" />
<rect x="1265" y="343" width="9" height="20" fill="#00ff00" />
<rect x="1285" y="351" width="1" height="58" fill="#000" />
<rect x="1280" y="363" width="11" height="40" fill="#000" />
<rect x="1281" y="364" width="9" height="38" fill="#00ff00" />
<rect x="1301" y="227" width="1" height="178" fill="#000" />
<rect x="1296" y="230" width="11" height="173" fill="#000" />
<rect x="1297" y="231" width="9" height="171" fill="#ff0000" />
<rect x="1317" y="229" width="1" height="40" fill="#00ff00" />
<rect x="1312" y="230" width="11" height="1" fill="#00ff00" />
<rect x="1333" y="200" width="1" height="33" fill="#000" />
<rect x="1328" y="222" width="11" height="9" fill="#000" />
<rect x="1329" y="223" width="9" height="7" fill="#ff0000" />
<rect x="1349" y="218" width="1" height="26" fill="#000" />
<rect x="1344" y="222" width="11" height="7" fill="#000" />
<rect x="1345" y="223" width="9" height="5" fill="#00ff00" />
<rect x="1365" y="178" width="1" height="55" fill="#000" />
<rect x="1360" y="184" width="11" height="45" fill="#000" />
<rect x="1361" y="185" width="9" height="43" fill="#ff0000" />
<rect x="1381" y="148" width="1" height="50" fill="#000" />
<rect x="1376" y="150" width="11" height="35" fill="#000" />
<rect x="1377" y="151" width="9" height="33" fill="#ff0000" />
<rect x="1397" y="124" width="1" height="45" fill="#000" />
<rect x="1392" y="125" width="11" height="27" fill="#000" />
<rect x="1393" y="126" width="9" height="25" fill="#ff0000" />
<rect x="1413" y="97" width="1" height="39" fill="#000" />
<rect x="1408" y="99" width="11" height="27" fill="#000" />
<rect x="1409" y="100" width="9" height="25" fill="#ff0000" />
</g>
<g shape-rendering="crispEdges">
<rect x="5" y="39" width="1636" height="2" fill="#ff0000" />
<rect x="5" y="72" width="1636" height="2" fill="#ff0000" />
<rect x="5" y="99" width="1636" height="1" fill="#000000" />
<rect x="5" y="111" width="1636" height="2" fill="#ffa500" />
<rect x="5" y="139" width="1636" height="2" fill="#0000ff" />
<rect x="5" y="169" width="1636" height="2" fill="#0000ff" />
</g>
<polygon points="7.5,36.5 15.5,36.5 11.5,41" fill="#000"/>
<polygon points="1438.5,31 1448.5,31 1443.5,36" fill="#000"/>
<g shape-rendering="crispEdges">
<rect x="1642" y="48" width="2" height="1" fill="#000" />
<rect x="1642" y="81" width="2" height="1" fill="#000" />
<rect x="1642" y="114" width="2" height="1" fill="#000" />
<rect x="1642" y="147" width="2" height="1" fill="#000" />
<rect x="1642" y="180" width="2" height="1" fill="#000" />
<rect x="1642" y="213" width="2" height="1" fill="#000" />
<rect x="1642" y="246" width="2" height="1" fill="#000" />
<rect x="1642" y="280" width="2" height="1" fill="#000" />
<rect x="1642" y="312" width="2" height="1" fill="#000" />
<rect x="1642" y="345" width="2" height="1" fill="#000" />
<rect x="1642" y="378" width="2" height="1" fill="#000" />
<rect x="1642" y="411" width="2" height="1" fill="#000" />
<rect x="1642" y="444" width="2" height="1" fill="#000" />
<rect x="1642" y="477" width="2" height="1" fill="#000" />
<rect x="1642" y="510" width="2" height="1" fill="#000" />
<rect x="1642" y="543" width="2" height="1" fill="#000" />
<rect x="1642" y="576" width="2" height="1" fill="#000" />
<rect x="1642" y="609" width="2" height="1" fill="#000" />
</g>
<text x="1647" y="52" font-size="9.8" fill="#000" textLength="33" lengthAdjust="spacingAndGlyphs" >1.04310</text>
<text x="1647" y="85" font-size="9.8" fill="#000" textLength="33" lengthAdjust="spacingAndGlyphs" >1.03860</text>
<text x="1647" y="118" font-size="9.8" fill="#000" textLength="33" lengthAdjust="spacingAndGlyphs" >1.03400</text>
<text x="1647" y="151" font-size="9.8" fill="#000" textLength="33" lengthAdjust="spacingAndGlyphs" >1.02950</text>
<text x="1647" y="184" font-size="9.8" fill="#000" textLength="33" lengthAdjust="spacingAndGlyphs" >1.02490</text>
<text x="1647" y="217" font-size="9.8" fill="#000" textLength="33" lengthAdjust="spacingAndGlyphs" >1.02030</text>
<text x="1647" y="250" font-size="9.8" fill="#000" textLength="33" lengthAdjust="spacingAndGlyphs" >1.01580</text>
<text x="1647" y="284" font-size="9.8" fill="#000" textLength="33" lengthAdjust="spacingAndGlyphs" >1.01120</text>
<text x="1647" y="316" font-size="9.8" fill="#000" textLength="33" lengthAdjust="spacingAndGlyphs" >1.00670</text>
<text x="1647" y="349" font-size="9.8" fill="#000" textLength="33" lengthAdjust="spacingAndGlyphs" >1.00210</text>
<text x="1647" y="382" font-size="9.8" fill="#000" textLength="33" lengthAdjust="spacingAndGlyphs" >0.99760</text>
<text x="1647" y="415" font-size="9.8" fill="#000" textLength="33" lengthAdjust="spacingAndGlyphs" >0.99300</text>
<text x="1647" y="448" font-size="9.8" fill="#000" textLength="33" lengthAdjust="spacingAndGlyphs" >0.98850</text>
<text x="1647" y="481" font-size="9.8" fill="#000" textLength="33" lengthAdjust="spacingAndGlyphs" >0.98390</text>
<text x="1647" y="514" font-size="9.8" fill="#000" textLength="33" lengthAdjust="spacingAndGlyphs" >0.97940</text>
<text x="1647" y="547" font-size="9.8" fill="#000" textLength="33" lengthAdjust="spacingAndGlyphs" >0.97480</text>
<text x="1647" y="580" font-size="9.8" fill="#000" textLength="33" lengthAdjust="spacingAndGlyphs" >0.97030</text>
<text x="1647" y="613" font-size="9.8" fill="#000" textLength="33" lengthAdjust="spacingAndGlyphs" >0.96570</text>
<g shape-rendering="crispEdges">
<rect x="1643" y="34" width="41" height="11" fill="#ff0000" />
<rect x="4" y="37" width="6" height="6" fill="#ff0000" />
<rect x="6" y="39" width="2" height="2" fill="#fff" />
<rect x="1635" y="37" width="6" height="6" fill="#ff0000" />
<rect x="1637" y="39" width="2" height="2" fill="#fff" />
<rect x="1643" y="67" width="41" height="11" fill="#ff0000" />
<rect x="4" y="70" width="6" height="6" fill="#ff0000" />
<rect x="6" y="72" width="2" height="2" fill="#fff" />
<rect x="1635" y="70" width="6" height="6" fill="#ff0000" />
<rect x="1637" y="72" width="2" height="2" fill="#fff" />
<rect x="1643" y="94" width="41" height="11" fill="#000000" />
<rect x="1643" y="106" width="41" height="11" fill="#ffa500" />
<rect x="4" y="109" width="6" height="6" fill="#ffa500" />
<rect x="6" y="111" width="2" height="2" fill="#fff" />
<rect x="1635" y="109" width="6" height="6" fill="#ffa500" />
<rect x="1637" y="111" width="2" height="2" fill="#fff" />
<rect x="1643" y="134" width="41" height="11" fill="#0000ff" />
<rect x="4" y="137" width="6" height="6" fill="#0000ff" />
<rect x="6" y="139" width="2" height="2" fill="#fff" />
<rect x="1635" y="137" width="6" height="6" fill="#0000ff" />
<rect x="1637" y="139" width="2" height="2" fill="#fff" />
<rect x="1643" y="164" width="41" height="11" fill="#0000ff" />
<rect x="4" y="167" width="6" height="6" fill="#0000ff" />
<rect x="6" y="169" width="2" height="2" fill="#fff" />
<rect x="1635" y="167" width="6" height="6" fill="#0000ff" />
<rect x="1637" y="169" width="2" height="2" fill="#fff" />
</g>
<text x="1647" y="43" font-size="9.8" fill="#fff" textLength="33" lengthAdjust="spacingAndGlyphs" >1.04418</text>
<text x="1647" y="76" font-size="9.8" fill="#fff" textLength="33" lengthAdjust="spacingAndGlyphs" >1.03962</text>
<text x="1647" y="103" font-size="9.8" fill="#fff" textLength="33" lengthAdjust="spacingAndGlyphs" >1.03614</text>
<text x="1647" y="115" font-size="9.8" fill="#fff" textLength="33" lengthAdjust="spacingAndGlyphs" >1.03434</text>
<text x="1647" y="143" font-size="9.8" fill="#fff" textLength="33" lengthAdjust="spacingAndGlyphs" >1.03046</text>
<text x="1647" y="173" font-size="9.8" fill="#fff" textLength="33" lengthAdjust="spacingAndGlyphs" >1.02635</text>
<line x1="1380.8" y1="288.3" x2="1496" y2="102.5" stroke="#e8141c" stroke-width="3.1"/>
<polygon points="1502.5,92.8 1485.7,103.4 1500.4,112.4" fill="#e8141c"/>
<g shape-rendering="crispEdges">
<rect x="4" y="680" width="3" height="8" fill="#00ff00" />
<rect x="20" y="680" width="3" height="8" fill="#00ff00" />
<rect x="36" y="679" width="3" height="9" fill="#00ff00" />
<rect x="52" y="677" width="3" height="11" fill="#00ff00" />
<rect x="68" y="675" width="3" height="13" fill="#00ff00" />
<rect x="84" y="673" width="3" height="15" fill="#00ff00" />
<rect x="100" y="672" width="3" height="16" fill="#00ff00" />
<rect x="116" y="673" width="3" height="15" fill="#00ff00" />
<rect x="132" y="673" width="3" height="15" fill="#00ff00" />
<rect x="148" y="668" width="3" height="20" fill="#00ff00" />
<rect x="164" y="664" width="3" height="24" fill="#00ff00" />
<rect x="180" y="661" width="3" height="27" fill="#00ff00" />
<rect x="196" y="659" width="3" height="29" fill="#00ff00" />
<rect x="212" y="654" width="3" height="34" fill="#00ff00" />
<rect x="228" y="651" width="3" height="37" fill="#00ff00" />
<rect x="244" y="646" width="3" height="42" fill="#00ff00" />
<rect x="260" y="642" width="3" height="46" fill="#00ff00" />
<rect x="276" y="638" width="3" height="50" fill="#00ff00" />
<rect x="292" y="638" width="3" height="50" fill="#00ff00" />
<rect x="308" y="638" width="3" height="50" fill="#00ff00" />
<rect x="324" y="640" width="3" height="48" fill="#00ff00" />
<rect x="340" y="646" width="3" height="42" fill="#00ff00" />
<rect x="356" y="651" width="3" height="37" fill="#00ff00" />
<rect x="372" y="657" width="3" height="31" fill="#00ff00" />
<rect x="388" y="660" width="3" height="28" fill="#00ff00" />
<rect x="404" y="665" width="3" height="23" fill="#00ff00" />
<rect x="420" y="669" width="3" height="19" fill="#00ff00" />
<rect x="436" y="674" width="3" height="14" fill="#00ff00" />
<rect x="452" y="676" width="3" height="12" fill="#00ff00" />
<rect x="468" y="678" width="3" height="10" fill="#00ff00" />
<rect x="484" y="679" width="3" height="9" fill="#00ff00" />
<rect x="500" y="682" width="3" height="6" fill="#00ff00" />
<rect x="516" y="685" width="3" height="3" fill="#00ff00" />
<rect x="532" y="688" width="3" height="2" fill="#00ff00" />
<rect x="548" y="688" width="3" height="6" fill="#00ff00" />
<rect x="564" y="688" width="3" height="9" fill="#00ff00" />
<rect x="580" y="688" width="3" height="10" fill="#00ff00" />
<rect x="596" y="688" width="3" height="9" fill="#00ff00" />
<rect x="612" y="688" width="3" height="8" fill="#00ff00" />
<rect x="628" y="688" width="3" height="11" fill="#00ff00" />
<rect x="644" y="688" width="3" height="13" fill="#00ff00" />
<rect x="660" y="688" width="3" height="14" fill="#00ff00" />
<rect x="676" y="688" width="3" height="14" fill="#00ff00" />
<rect x="692" y="688" width="3" height="14" fill="#00ff00" />
<rect x="708" y="688" width="3" height="14" fill="#00ff00" />
<rect x="724" y="688" width="3" height="14" fill="#00ff00" />
<rect x="740" y="688" width="3" height="17" fill="#00ff00" />
<rect x="756" y="688" width="3" height="20" fill="#00ff00" />
<rect x="772" y="688" width="3" height="22" fill="#00ff00" />
<rect x="788" y="688" width="3" height="25" fill="#00ff00" />
<rect x="804" y="688" width="3" height="30" fill="#00ff00" />
<rect x="820" y="688" width="3" height="33" fill="#00ff00" />
<rect x="836" y="688" width="3" height="35" fill="#00ff00" />
<rect x="852" y="688" width="3" height="36" fill="#00ff00" />
<rect x="868" y="688" width="3" height="36" fill="#00ff00" />
<rect x="884" y="688" width="3" height="35" fill="#00ff00" />
<rect x="900" y="688" width="3" height="30" fill="#00ff00" />
<rect x="916" y="688" width="3" height="24" fill="#00ff00" />
<rect x="932" y="688" width="3" height="14" fill="#00ff00" />
<rect x="948" y="688" width="3" height="8" fill="#00ff00" />
<rect x="964" y="688" width="3" height="2" fill="#00ff00" />
<rect x="980" y="685" width="3" height="3" fill="#00ff00" />
<rect x="996" y="678" width="3" height="10" fill="#00ff00" />
<rect x="1012" y="672" width="3" height="16" fill="#00ff00" />
<rect x="1028" y="666" width="3" height="22" fill="#00ff00" />
<rect x="1044" y="662" width="3" height="26" fill="#00ff00" />
<rect x="1060" y="660" width="3" height="28" fill="#00ff00" />
<rect x="1076" y="659" width="3" height="29" fill="#00ff00" />
<rect x="1092" y="659" width="3" height="29" fill="#00ff00" />
<rect x="1108" y="655" width="3" height="33" fill="#00ff00" />
<rect x="1124" y="652" width="3" height="36" fill="#00ff00" />
<rect x="1140" y="650" width="3" height="38" fill="#00ff00" />
<rect x="1156" y="649" width="3" height="39" fill="#00ff00" />
<rect x="1172" y="649" width="3" height="39" fill="#00ff00" />
<rect x="1188" y="650" width="3" height="38" fill="#00ff00" />
<rect x="1204" y="653" width="3" height="35" fill="#00ff00" />
<rect x="1220" y="657" width="3" height="31" fill="#00ff00" />
<rect x="1236" y="660" width="3" height="28" fill="#00ff00" />
<rect x="1252" y="662" width="3" height="26" fill="#00ff00" />
<rect x="1268" y="665" width="3" height="23" fill="#00ff00" />
<rect x="1284" y="671" width="3" height="17" fill="#00ff00" />
<rect x="1300" y="663" width="3" height="25" fill="#00ff00" />
<rect x="1316" y="656" width="3" height="32" fill="#00ff00" />
<rect x="1332" y="650" width="3" height="38" fill="#00ff00" />
<rect x="1348" y="647" width="3" height="41" fill="#00ff00" />
<rect x="1364" y="641" width="3" height="47" fill="#00ff00" />
<rect x="1380" y="634" width="3" height="54" fill="#00ff00" />
<rect x="1396" y="627" width="3" height="61" fill="#00ff00" />
<rect x="1412" y="621" width="3" height="67" fill="#00ff00" />
</g>
<polyline points="5,686 21,685.5 37,684.5 53,683 69,683 85,680 101,678.5 117,678 133,676.5 149,675 165,673 181,671 197,668.5 213,666.5 229,665 245,662 261,657 277,654 293,650.5 309,647 325,646 341,644.5 360,644 373,645 389,645 405,649 421,652 437,655.5 453,660 469,665 485,668 501,672 517,675 533,678 549,682 565,685 581,687 597,689 613,691 629,693 645,695 661,697 677,698 693,699 709,699 725,700 741,701 757,703 773,704 789,705 805,707 821,709 837,711 853,714 869,716 885,718 900,719.5 917,719.5 933,718.5 949,715 965,712 981,708 997,703 1013,697 1029,691 1045,685 1061,680 1077,674.5 1093,671 1109,667 1125,664 1141,661 1157,658 1173,655.5 1189,655 1205,653 1253,653 1260,654 1269,655 1285,657 1301,659.5 1317,660 1349,660 1365,658 1381,654 1397,652 1413,647" fill="none" stroke="#ff0000" stroke-width="2" shape-rendering="crispEdges"/>
<text x="8" y="627" font-size="9.8" fill="#000" textLength="150" lengthAdjust="spacingAndGlyphs" >MACD(12,26,9)&#160;0.009126&#160;0.005775</text>
<g shape-rendering="crispEdges">
<rect x="1642" y="616" width="1" height="1" fill="#000" />
<rect x="1642" y="688" width="1" height="1" fill="#000" />
<rect x="1642" y="728" width="1" height="1" fill="#000" />
</g>
<text x="1645" y="625" font-size="9.8" fill="#000" textLength="38" lengthAdjust="spacingAndGlyphs" >0.009817</text>
<text x="1645" y="692" font-size="9.8" fill="#000" textLength="18" lengthAdjust="spacingAndGlyphs" >0.00</text>
<text x="1645" y="726" font-size="9.8" fill="#000" textLength="41" lengthAdjust="spacingAndGlyphs" >-0.005384</text>
<g shape-rendering="crispEdges">
<rect x="6" y="755" width="3" height="1" fill="#000" />
<rect x="12" y="755" width="3" height="1" fill="#000" />
<rect x="18" y="755" width="3" height="1" fill="#000" />
<rect x="24" y="755" width="3" height="1" fill="#000" />
<rect x="30" y="755" width="3" height="1" fill="#000" />
<rect x="36" y="755" width="3" height="1" fill="#000" />
<rect x="42" y="755" width="3" height="1" fill="#000" />
<rect x="48" y="755" width="3" height="1" fill="#000" />
<rect x="54" y="755" width="3" height="1" fill="#000" />
<rect x="60" y="755" width="3" height="1" fill="#000" />
<rect x="66" y="755" width="3" height="1" fill="#000" />
<rect x="72" y="755" width="3" height="1" fill="#000" />
<rect x="78" y="755" width="3" height="1" fill="#000" />
<rect x="84" y="755" width="3" height="1" fill="#000" />
<rect x="90" y="755" width="3" height="1" fill="#000" />
<rect x="96" y="755" width="3" height="1" fill="#000" />
<rect x="102" y="755" width="3" height="1" fill="#000" />
<rect x="108" y="755" width="3" height="1" fill="#000" />
<rect x="114" y="755" width="3" height="1" fill="#000" />
<rect x="120" y="755" width="3" height="1" fill="#000" />
<rect x="126" y="755" width="3" height="1" fill="#000" />
<rect x="132" y="755" width="3" height="1" fill="#000" />
<rect x="138" y="755" width="3" height="1" fill="#000" />
<rect x="144" y="755" width="3" height="1" fill="#000" />
<rect x="150" y="755" width="3" height="1" fill="#000" />
<rect x="156" y="755" width="3" height="1" fill="#000" />
<rect x="162" y="755" width="3" height="1" fill="#000" />
<rect x="168" y="755" width="3" height="1" fill="#000" />
<rect x="174" y="755" width="3" height="1" fill="#000" />
<rect x="180" y="755" width="3" height="1" fill="#000" />
<rect x="186" y="755" width="3" height="1" fill="#000" />
<rect x="192" y="755" width="3" height="1" fill="#000" />
<rect x="198" y="755" width="3" height="1" fill="#000" />
<rect x="204" y="755" width="3" height="1" fill="#000" />
<rect x="210" y="755" width="3" height="1" fill="#000" />
<rect x="216" y="755" width="3" height="1" fill="#000" />
<rect x="222" y="755" width="3" height="1" fill="#000" />
<rect x="228" y="755" width="3" height="1" fill="#000" />
<rect x="234" y="755" width="3" height="1" fill="#000" />
<rect x="240" y="755" width="3" height="1" fill="#000" />
<rect x="246" y="755" width="3" height="1" fill="#000" />
<rect x="252" y="755" width="3" height="1" fill="#000" />
<rect x="258" y="755" width="3" height="1" fill="#000" />
<rect x="264" y="755" width="3" height="1" fill="#000" />
<rect x="270" y="755" width="3" height="1" fill="#000" />
<rect x="276" y="755" width="3" height="1" fill="#000" />
<rect x="282" y="755" width="3" height="1" fill="#000" />
<rect x="288" y="755" width="3" height="1" fill="#000" />
<rect x="294" y="755" width="3" height="1" fill="#000" />
<rect x="300" y="755" width="3" height="1" fill="#000" />
<rect x="306" y="755" width="3" height="1" fill="#000" />
<rect x="312" y="755" width="3" height="1" fill="#000" />
<rect x="318" y="755" width="3" height="1" fill="#000" />
<rect x="324" y="755" width="3" height="1" fill="#000" />
<rect x="330" y="755" width="3" height="1" fill="#000" />
<rect x="336" y="755" width="3" height="1" fill="#000" />
<rect x="342" y="755" width="3" height="1" fill="#000" />
<rect x="348" y="755" width="3" height="1" fill="#000" />
<rect x="354" y="755" width="3" height="1" fill="#000" />
<rect x="360" y="755" width="3" height="1" fill="#000" />
<rect x="366" y="755" width="3" height="1" fill="#000" />
<rect x="372" y="755" width="3" height="1" fill="#000" />
<rect x="378" y="755" width="3" height="1" fill="#000" />
<rect x="384" y="755" width="3" height="1" fill="#000" />
<rect x="390" y="755" width="3" height="1" fill="#000" />
<rect x="396" y="755" width="3" height="1" fill="#000" />
<rect x="402" y="755" width="3" height="1" fill="#000" />
<rect x="408" y="755" width="3" height="1" fill="#000" />
<rect x="414" y="755" width="3" height="1" fill="#000" />
<rect x="420" y="755" width="3" height="1" fill="#000" />
<rect x="426" y="755" width="3" height="1" fill="#000" />
<rect x="432" y="755" width="3" height="1" fill="#000" />
<rect x="438" y="755" width="3" height="1" fill="#000" />
<rect x="444" y="755" width="3" height="1" fill="#000" />
<rect x="450" y="755" width="3" height="1" fill="#000" />
<rect x="456" y="755" width="3" height="1" fill="#000" />
<rect x="462" y="755" width="3" height="1" fill="#000" />
<rect x="468" y="755" width="3" height="1" fill="#000" />
<rect x="474" y="755" width="3" height="1" fill="#000" />
<rect x="480" y="755" width="3" height="1" fill="#000" />
<rect x="486" y="755" width="3" height="1" fill="#000" />
<rect x="492" y="755" width="3" height="1" fill="#000" />
<rect x="498" y="755" width="3" height="1" fill="#000" />
<rect x="504" y="755" width="3" height="1" fill="#000" />
<rect x="510" y="755" width="3" height="1" fill="#000" />
<rect x="516" y="755" width="3" height="1" fill="#000" />
<rect x="522" y="755" width="3" height="1" fill="#000" />
<rect x="528" y="755" width="3" height="1" fill="#000" />
<rect x="534" y="755" width="3" height="1" fill="#000" />
<rect x="540" y="755" width="3" height="1" fill="#000" />
<rect x="546" y="755" width="3" height="1" fill="#000" />
<rect x="552" y="755" width="3" height="1" fill="#000" />
<rect x="558" y="755" width="3" height="1" fill="#000" />
<rect x="564" y="755" width="3" height="1" fill="#000" />
<rect x="570" y="755" width="3" height="1" fill="#000" />
<rect x="576" y="755" width="3" height="1" fill="#000" />
<rect x="582" y="755" width="3" height="1" fill="#000" />
<rect x="588" y="755" width="3" height="1" fill="#000" />
<rect x="594" y="755" width="3" height="1" fill="#000" />
<rect x="600" y="755" width="3" height="1" fill="#000" />
<rect x="606" y="755" width="3" height="1" fill="#000" />
<rect x="612" y="755" width="3" height="1" fill="#000" />
<rect x="618" y="755" width="3" height="1" fill="#000" />
<rect x="624" y="755" width="3" height="1" fill="#000" />
<rect x="630" y="755" width="3" height="1" fill="#000" />
<rect x="636" y="755" width="3" height="1" fill="#000" />
<rect x="642" y="755" width="3" height="1" fill="#000" />
<rect x="648" y="755" width="3" height="1" fill="#000" />
<rect x="654" y="755" width="3" height="1" fill="#000" />
<rect x="660" y="755" width="3" height="1" fill="#000" />
<rect x="666" y="755" width="3" height="1" fill="#000" />
<rect x="672" y="755" width="3" height="1" fill="#000" />
<rect x="678" y="755" width="3" height="1" fill="#000" />
<rect x="684" y="755" width="3" height="1" fill="#000" />
<rect x="690" y="755" width="3" height="1" fill="#000" />
<rect x="696" y="755" width="3" height="1" fill="#000" />
<rect x="702" y="755" width="3" height="1" fill="#000" />
<rect x="708" y="755" width="3" height="1" fill="#000" />
<rect x="714" y="755" width="3" height="1" fill="#000" />
<rect x="720" y="755" width="3" height="1" fill="#000" />
<rect x="726" y="755" width="3" height="1" fill="#000" />
<rect x="732" y="755" width="3" height="1" fill="#000" />
<rect x="738" y="755" width="3" height="1" fill="#000" />
<rect x="744" y="755" width="3" height="1" fill="#000" />
<rect x="750" y="755" width="3" height="1" fill="#000" />
<rect x="756" y="755" width="3" height="1" fill="#000" />
<rect x="762" y="755" width="3" height="1" fill="#000" />
<rect x="768" y="755" width="3" height="1" fill="#000" />
<rect x="774" y="755" width="3" height="1" fill="#000" />
<rect x="780" y="755" width="3" height="1" fill="#000" />
<rect x="786" y="755" width="3" height="1" fill="#000" />
<rect x="792" y="755" width="3" height="1" fill="#000" />
<rect x="798" y="755" width="3" height="1" fill="#000" />
<rect x="804" y="755" width="3" height="1" fill="#000" />
<rect x="810" y="755" width="3" height="1" fill="#000" />
<rect x="816" y="755" width="3" height="1" fill="#000" />
<rect x="822" y="755" width="3" height="1" fill="#000" />
<rect x="828" y="755" width="3" height="1" fill="#000" />
<rect x="834" y="755" width="3" height="1" fill="#000" />
<rect x="840" y="755" width="3" height="1" fill="#000" />
<rect x="846" y="755" width="3" height="1" fill="#000" />
<rect x="852" y="755" width="3" height="1" fill="#000" />
<rect x="858" y="755" width="3" height="1" fill="#000" />
<rect x="864" y="755" width="3" height="1" fill="#000" />
<rect x="870" y="755" width="3" height="1" fill="#000" />
<rect x="876" y="755" width="3" height="1" fill="#000" />
<rect x="882" y="755" width="3" height="1" fill="#000" />
<rect x="888" y="755" width="3" height="1" fill="#000" />
<rect x="894" y="755" width="3" height="1" fill="#000" />
<rect x="900" y="755" width="3" height="1" fill="#000" />
<rect x="906" y="755" width="3" height="1" fill="#000" />
<rect x="912" y="755" width="3" height="1" fill="#000" />
<rect x="918" y="755" width="3" height="1" fill="#000" />
<rect x="924" y="755" width="3" height="1" fill="#000" />
<rect x="930" y="755" width="3" height="1" fill="#000" />
<rect x="936" y="755" width="3" height="1" fill="#000" />
<rect x="942" y="755" width="3" height="1" fill="#000" />
<rect x="948" y="755" width="3" height="1" fill="#000" />
<rect x="954" y="755" width="3" height="1" fill="#000" />
<rect x="960" y="755" width="3" height="1" fill="#000" />
<rect x="966" y="755" width="3" height="1" fill="#000" />
<rect x="972" y="755" width="3" height="1" fill="#000" />
<rect x="978" y="755" width="3" height="1" fill="#000" />
<rect x="984" y="755" width="3" height="1" fill="#000" />
<rect x="990" y="755" width="3" height="1" fill="#000" />
<rect x="996" y="755" width="3" height="1" fill="#000" />
<rect x="1002" y="755" width="3" height="1" fill="#000" />
<rect x="1008" y="755" width="3" height="1" fill="#000" />
<rect x="1014" y="755" width="3" height="1" fill="#000" />
<rect x="1020" y="755" width="3" height="1" fill="#000" />
<rect x="1026" y="755" width="3" height="1" fill="#000" />
<rect x="1032" y="755" width="3" height="1" fill="#000" />
<rect x="1038" y="755" width="3" height="1" fill="#000" />
<rect x="1044" y="755" width="3" height="1" fill="#000" />
<rect x="1050" y="755" width="3" height="1" fill="#000" />
<rect x="1056" y="755" width="3" height="1" fill="#000" />
<rect x="1062" y="755" width="3" height="1" fill="#000" />
<rect x="1068" y="755" width="3" height="1" fill="#000" />
<rect x="1074" y="755" width="3" height="1" fill="#000" />
<rect x="1080" y="755" width="3" height="1" fill="#000" />
<rect x="1086" y="755" width="3" height="1" fill="#000" />
<rect x="1092" y="755" width="3" height="1" fill="#000" />
<rect x="1098" y="755" width="3" height="1" fill="#000" />
<rect x="1104" y="755" width="3" height="1" fill="#000" />
<rect x="1110" y="755" width="3" height="1" fill="#000" />
<rect x="1116" y="755" width="3" height="1" fill="#000" />
<rect x="1122" y="755" width="3" height="1" fill="#000" />
<rect x="1128" y="755" width="3" height="1" fill="#000" />
<rect x="1134" y="755" width="3" height="1" fill="#000" />
<rect x="1140" y="755" width="3" height="1" fill="#000" />
<rect x="1146" y="755" width="3" height="1" fill="#000" />
<rect x="1152" y="755" width="3" height="1" fill="#000" />
<rect x="1158" y="755" width="3" height="1" fill="#000" />
<rect x="1164" y="755" width="3" height="1" fill="#000" />
<rect x="1170" y="755" width="3" height="1" fill="#000" />
<rect x="1176" y="755" width="3" height="1" fill="#000" />
<rect x="1182" y="755" width="3" height="1" fill="#000" />
<rect x="1188" y="755" width="3" height="1" fill="#000" />
<rect x="1194" y="755" width="3" height="1" fill="#000" />
<rect x="1200" y="755" width="3" height="1" fill="#000" />
<rect x="1206" y="755" width="3" height="1" fill="#000" />
<rect x="1212" y="755" width="3" height="1" fill="#000" />
<rect x="1218" y="755" width="3" height="1" fill="#000" />
<rect x="1224" y="755" width="3" height="1" fill="#000" />
<rect x="1230" y="755" width="3" height="1" fill="#000" />
<rect x="1236" y="755" width="3" height="1" fill="#000" />
<rect x="1242" y="755" width="3" height="1" fill="#000" />
<rect x="1248" y="755" width="3" height="1" fill="#000" />
<rect x="1254" y="755" width="3" height="1" fill="#000" />
<rect x="1260" y="755" width="3" height="1" fill="#000" />
<rect x="1266" y="755" width="3" height="1" fill="#000" />
<rect x="1272" y="755" width="3" height="1" fill="#000" />
<rect x="1278" y="755" width="3" height="1" fill="#000" />
<rect x="1284" y="755" width="3" height="1" fill="#000" />
<rect x="1290" y="755" width="3" height="1" fill="#000" />
<rect x="1296" y="755" width="3" height="1" fill="#000" />
<rect x="1302" y="755" width="3" height="1" fill="#000" />
<rect x="1308" y="755" width="3" height="1" fill="#000" />
<rect x="1314" y="755" width="3" height="1" fill="#000" />
<rect x="1320" y="755" width="3" height="1" fill="#000" />
<rect x="1326" y="755" width="3" height="1" fill="#000" />
<rect x="1332" y="755" width="3" height="1" fill="#000" />
<rect x="1338" y="755" width="3" height="1" fill="#000" />
<rect x="1344" y="755" width="3" height="1" fill="#000" />
<rect x="1350" y="755" width="3" height="1" fill="#000" />
<rect x="1356" y="755" width="3" height="1" fill="#000" />
<rect x="1362" y="755" width="3" height="1" fill="#000" />
<rect x="1368" y="755" width="3" height="1" fill="#000" />
<rect x="1374" y="755" width="3" height="1" fill="#000" />
<rect x="1380" y="755" width="3" height="1" fill="#000" />
<rect x="1386" y="755" width="3" height="1" fill="#000" />
<rect x="1392" y="755" width="3" height="1" fill="#000" />
<rect x="1398" y="755" width="3" height="1" fill="#000" />
<rect x="1404" y="755" width="3" height="1" fill="#000" />
<rect x="1410" y="755" width="3" height="1" fill="#000" />
<rect x="1416" y="755" width="3" height="1" fill="#000" />
<rect x="1422" y="755" width="3" height="1" fill="#000" />
<rect x="1428" y="755" width="3" height="1" fill="#000" />
<rect x="1434" y="755" width="3" height="1" fill="#000" />
<rect x="1440" y="755" width="3" height="1" fill="#000" />
<rect x="1446" y="755" width="3" height="1" fill="#000" />
<rect x="1452" y="755" width="3" height="1" fill="#000" />
<rect x="1458" y="755" width="3" height="1" fill="#000" />
<rect x="1464" y="755" width="3" height="1" fill="#000" />
<rect x="1470" y="755" width="3" height="1" fill="#000" />
<rect x="1476" y="755" width="3" height="1" fill="#000" />
<rect x="1482" y="755" width="3" height="1" fill="#000" />
<rect x="1488" y="755" width="3" height="1" fill="#000" />
<rect x="1494" y="755" width="3" height="1" fill="#000" />
<rect x="1500" y="755" width="3" height="1" fill="#000" />
<rect x="1506" y="755" width="3" height="1" fill="#000" />
<rect x="1512" y="755" width="3" height="1" fill="#000" />
<rect x="1518" y="755" width="3" height="1" fill="#000" />
<rect x="1524" y="755" width="3" height="1" fill="#000" />
<rect x="1530" y="755" width="3" height="1" fill="#000" />
<rect x="1536" y="755" width="3" height="1" fill="#000" />
<rect x="1542" y="755" width="3" height="1" fill="#000" />
<rect x="1548" y="755" width="3" height="1" fill="#000" />
<rect x="1554" y="755" width="3" height="1" fill="#000" />
<rect x="1560" y="755" width="3" height="1" fill="#000" />
<rect x="1566" y="755" width="3" height="1" fill="#000" />
<rect x="1572" y="755" width="3" height="1" fill="#000" />
<rect x="1578" y="755" width="3" height="1" fill="#000" />
<rect x="1584" y="755" width="3" height="1" fill="#000" />
<rect x="1590" y="755" width="3" height="1" fill="#000" />
<rect x="1596" y="755" width="3" height="1" fill="#000" />
<rect x="1602" y="755" width="3" height="1" fill="#000" />
<rect x="1608" y="755" width="3" height="1" fill="#000" />
<rect x="1614" y="755" width="3" height="1" fill="#000" />
<rect x="1620" y="755" width="3" height="1" fill="#000" />
<rect x="1626" y="755" width="3" height="1" fill="#000" />
<rect x="1632" y="755" width="3" height="1" fill="#000" />
<rect x="1638" y="755" width="3" height="1" fill="#000" />
<rect x="6" y="788" width="3" height="1" fill="#000" />
<rect x="12" y="788" width="3" height="1" fill="#000" />
<rect x="18" y="788" width="3" height="1" fill="#000" />
<rect x="24" y="788" width="3" height="1" fill="#000" />
<rect x="30" y="788" width="3" height="1" fill="#000" />
<rect x="36" y="788" width="3" height="1" fill="#000" />
<rect x="42" y="788" width="3" height="1" fill="#000" />
<rect x="48" y="788" width="3" height="1" fill="#000" />
<rect x="54" y="788" width="3" height="1" fill="#000" />
<rect x="60" y="788" width="3" height="1" fill="#000" />
<rect x="66" y="788" width="3" height="1" fill="#000" />
<rect x="72" y="788" width="3" height="1" fill="#000" />
<rect x="78" y="788" width="3" height="1" fill="#000" />
<rect x="84" y="788" width="3" height="1" fill="#000" />
<rect x="90" y="788" width="3" height="1" fill="#000" />
<rect x="96" y="788" width="3" height="1" fill="#000" />
<rect x="102" y="788" width="3" height="1" fill="#000" />
<rect x="108" y="788" width="3" height="1" fill="#000" />
<rect x="114" y="788" width="3" height="1" fill="#000" />
<rect x="120" y="788" width="3" height="1" fill="#000" />
<rect x="126" y="788" width="3" height="1" fill="#000" />
<rect x="132" y="788" width="3" height="1" fill="#000" />
<rect x="138" y="788" width="3" height="1" fill="#000" />
<rect x="144" y="788" width="3" height="1" fill="#000" />
<rect x="150" y="788" width="3" height="1" fill="#000" />
<rect x="156" y="788" width="3" height="1" fill="#000" />
<rect x="162" y="788" width="3" height="1" fill="#000" />
<rect x="168" y="788" width="3" height="1" fill="#000" />
<rect x="174" y="788" width="3" height="1" fill="#000" />
<rect x="180" y="788" width="3" height="1" fill="#000" />
<rect x="186" y="788" width="3" height="1" fill="#000" />
<rect x="192" y="788" width="3" height="1" fill="#000" />
<rect x="198" y="788" width="3" height="1" fill="#000" />
<rect x="204" y="788" width="3" height="1" fill="#000" />
<rect x="210" y="788" width="3" height="1" fill="#000" />
<rect x="216" y="788" width="3" height="1" fill="#000" />
<rect x="222" y="788" width="3" height="1" fill="#000" />
<rect x="228" y="788" width="3" height="1" fill="#000" />
<rect x="234" y="788" width="3" height="1" fill="#000" />
<rect x="240" y="788" width="3" height="1" fill="#000" />
<rect x="246" y="788" width="3" height="1" fill="#000" />
<rect x="252" y="788" width="3" height="1" fill="#000" />
<rect x="258" y="788" width="3" height="1" fill="#000" />
<rect x="264" y="788" width="3" height="1" fill="#000" />
<rect x="270" y="788" width="3" height="1" fill="#000" />
<rect x="276" y="788" width="3" height="1" fill="#000" />
<rect x="282" y="788" width="3" height="1" fill="#000" />
<rect x="288" y="788" width="3" height="1" fill="#000" />
<rect x="294" y="788" width="3" height="1" fill="#000" />
<rect x="300" y="788" width="3" height="1" fill="#000" />
<rect x="306" y="788" width="3" height="1" fill="#000" />
<rect x="312" y="788" width="3" height="1" fill="#000" />
<rect x="318" y="788" width="3" height="1" fill="#000" />
<rect x="324" y="788" width="3" height="1" fill="#000" />
<rect x="330" y="788" width="3" height="1" fill="#000" />
<rect x="336" y="788" width="3" height="1" fill="#000" />
<rect x="342" y="788" width="3" height="1" fill="#000" />
<rect x="348" y="788" width="3" height="1" fill="#000" />
<rect x="354" y="788" width="3" height="1" fill="#000" />
<rect x="360" y="788" width="3" height="1" fill="#000" />
<rect x="366" y="788" width="3" height="1" fill="#000" />
<rect x="372" y="788" width="3" height="1" fill="#000" />
<rect x="378" y="788" width="3" height="1" fill="#000" />
<rect x="384" y="788" width="3" height="1" fill="#000" />
<rect x="390" y="788" width="3" height="1" fill="#000" />
<rect x="396" y="788" width="3" height="1" fill="#000" />
<rect x="402" y="788" width="3" height="1" fill="#000" />
<rect x="408" y="788" width="3" height="1" fill="#000" />
<rect x="414" y="788" width="3" height="1" fill="#000" />
<rect x="420" y="788" width="3" height="1" fill="#000" />
<rect x="426" y="788" width="3" height="1" fill="#000" />
<rect x="432" y="788" width="3" height="1" fill="#000" />
<rect x="438" y="788" width="3" height="1" fill="#000" />
<rect x="444" y="788" width="3" height="1" fill="#000" />
<rect x="450" y="788" width="3" height="1" fill="#000" />
<rect x="456" y="788" width="3" height="1" fill="#000" />
<rect x="462" y="788" width="3" height="1" fill="#000" />
<rect x="468" y="788" width="3" height="1" fill="#000" />
<rect x="474" y="788" width="3" height="1" fill="#000" />
<rect x="480" y="788" width="3" height="1" fill="#000" />
<rect x="486" y="788" width="3" height="1" fill="#000" />
<rect x="492" y="788" width="3" height="1" fill="#000" />
<rect x="498" y="788" width="3" height="1" fill="#000" />
<rect x="504" y="788" width="3" height="1" fill="#000" />
<rect x="510" y="788" width="3" height="1" fill="#000" />
<rect x="516" y="788" width="3" height="1" fill="#000" />
<rect x="522" y="788" width="3" height="1" fill="#000" />
<rect x="528" y="788" width="3" height="1" fill="#000" />
<rect x="534" y="788" width="3" height="1" fill="#000" />
<rect x="540" y="788" width="3" height="1" fill="#000" />
<rect x="546" y="788" width="3" height="1" fill="#000" />
<rect x="552" y="788" width="3" height="1" fill="#000" />
<rect x="558" y="788" width="3" height="1" fill="#000" />
<rect x="564" y="788" width="3" height="1" fill="#000" />
<rect x="570" y="788" width="3" height="1" fill="#000" />
<rect x="576" y="788" width="3" height="1" fill="#000" />
<rect x="582" y="788" width="3" height="1" fill="#000" />
<rect x="588" y="788" width="3" height="1" fill="#000" />
<rect x="594" y="788" width="3" height="1" fill="#000" />
<rect x="600" y="788" width="3" height="1" fill="#000" />
<rect x="606" y="788" width="3" height="1" fill="#000" />
<rect x="612" y="788" width="3" height="1" fill="#000" />
<rect x="618" y="788" width="3" height="1" fill="#000" />
<rect x="624" y="788" width="3" height="1" fill="#000" />
<rect x="630" y="788" width="3" height="1" fill="#000" />
<rect x="636" y="788" width="3" height="1" fill="#000" />
<rect x="642" y="788" width="3" height="1" fill="#000" />
<rect x="648" y="788" width="3" height="1" fill="#000" />
<rect x="654" y="788" width="3" height="1" fill="#000" />
<rect x="660" y="788" width="3" height="1" fill="#000" />
<rect x="666" y="788" width="3" height="1" fill="#000" />
<rect x="672" y="788" width="3" height="1" fill="#000" />
<rect x="678" y="788" width="3" height="1" fill="#000" />
<rect x="684" y="788" width="3" height="1" fill="#000" />
<rect x="690" y="788" width="3" height="1" fill="#000" />
<rect x="696" y="788" width="3" height="1" fill="#000" />
<rect x="702" y="788" width="3" height="1" fill="#000" />
<rect x="708" y="788" width="3" height="1" fill="#000" />
<rect x="714" y="788" width="3" height="1" fill="#000" />
<rect x="720" y="788" width="3" height="1" fill="#000" />
<rect x="726" y="788" width="3" height="1" fill="#000" />
<rect x="732" y="788" width="3" height="1" fill="#000" />
<rect x="738" y="788" width="3" height="1" fill="#000" />
<rect x="744" y="788" width="3" height="1" fill="#000" />
<rect x="750" y="788" width="3" height="1" fill="#000" />
<rect x="756" y="788" width="3" height="1" fill="#000" />
<rect x="762" y="788" width="3" height="1" fill="#000" />
<rect x="768" y="788" width="3" height="1" fill="#000" />
<rect x="774" y="788" width="3" height="1" fill="#000" />
<rect x="780" y="788" width="3" height="1" fill="#000" />
<rect x="786" y="788" width="3" height="1" fill="#000" />
<rect x="792" y="788" width="3" height="1" fill="#000" />
<rect x="798" y="788" width="3" height="1" fill="#000" />
<rect x="804" y="788" width="3" height="1" fill="#000" />
<rect x="810" y="788" width="3" height="1" fill="#000" />
<rect x="816" y="788" width="3" height="1" fill="#000" />
<rect x="822" y="788" width="3" height="1" fill="#000" />
<rect x="828" y="788" width="3" height="1" fill="#000" />
<rect x="834" y="788" width="3" height="1" fill="#000" />
<rect x="840" y="788" width="3" height="1" fill="#000" />
<rect x="846" y="788" width="3" height="1" fill="#000" />
<rect x="852" y="788" width="3" height="1" fill="#000" />
<rect x="858" y="788" width="3" height="1" fill="#000" />
<rect x="864" y="788" width="3" height="1" fill="#000" />
<rect x="870" y="788" width="3" height="1" fill="#000" />
<rect x="876" y="788" width="3" height="1" fill="#000" />
<rect x="882" y="788" width="3" height="1" fill="#000" />
<rect x="888" y="788" width="3" height="1" fill="#000" />
<rect x="894" y="788" width="3" height="1" fill="#000" />
<rect x="900" y="788" width="3" height="1" fill="#000" />
<rect x="906" y="788" width="3" height="1" fill="#000" />
<rect x="912" y="788" width="3" height="1" fill="#000" />
<rect x="918" y="788" width="3" height="1" fill="#000" />
<rect x="924" y="788" width="3" height="1" fill="#000" />
<rect x="930" y="788" width="3" height="1" fill="#000" />
<rect x="936" y="788" width="3" height="1" fill="#000" />
<rect x="942" y="788" width="3" height="1" fill="#000" />
<rect x="948" y="788" width="3" height="1" fill="#000" />
<rect x="954" y="788" width="3" height="1" fill="#000" />
<rect x="960" y="788" width="3" height="1" fill="#000" />
<rect x="966" y="788" width="3" height="1" fill="#000" />
<rect x="972" y="788" width="3" height="1" fill="#000" />
<rect x="978" y="788" width="3" height="1" fill="#000" />
<rect x="984" y="788" width="3" height="1" fill="#000" />
<rect x="990" y="788" width="3" height="1" fill="#000" />
<rect x="996" y="788" width="3" height="1" fill="#000" />
<rect x="1002" y="788" width="3" height="1" fill="#000" />
<rect x="1008" y="788" width="3" height="1" fill="#000" />
<rect x="1014" y="788" width="3" height="1" fill="#000" />
<rect x="1020" y="788" width="3" height="1" fill="#000" />
<rect x="1026" y="788" width="3" height="1" fill="#000" />
<rect x="1032" y="788" width="3" height="1" fill="#000" />
<rect x="1038" y="788" width="3" height="1" fill="#000" />
<rect x="1044" y="788" width="3" height="1" fill="#000" />
<rect x="1050" y="788" width="3" height="1" fill="#000" />
<rect x="1056" y="788" width="3" height="1" fill="#000" />
<rect x="1062" y="788" width="3" height="1" fill="#000" />
<rect x="1068" y="788" width="3" height="1" fill="#000" />
<rect x="1074" y="788" width="3" height="1" fill="#000" />
<rect x="1080" y="788" width="3" height="1" fill="#000" />
<rect x="1086" y="788" width="3" height="1" fill="#000" />
<rect x="1092" y="788" width="3" height="1" fill="#000" />
<rect x="1098" y="788" width="3" height="1" fill="#000" />
<rect x="1104" y="788" width="3" height="1" fill="#000" />
<rect x="1110" y="788" width="3" height="1" fill="#000" />
<rect x="1116" y="788" width="3" height="1" fill="#000" />
<rect x="1122" y="788" width="3" height="1" fill="#000" />
<rect x="1128" y="788" width="3" height="1" fill="#000" />
<rect x="1134" y="788" width="3" height="1" fill="#000" />
<rect x="1140" y="788" width="3" height="1" fill="#000" />
<rect x="1146" y="788" width="3" height="1" fill="#000" />
<rect x="1152" y="788" width="3" height="1" fill="#000" />
<rect x="1158" y="788" width="3" height="1" fill="#000" />
<rect x="1164" y="788" width="3" height="1" fill="#000" />
<rect x="1170" y="788" width="3" height="1" fill="#000" />
<rect x="1176" y="788" width="3" height="1" fill="#000" />
<rect x="1182" y="788" width="3" height="1" fill="#000" />
<rect x="1188" y="788" width="3" height="1" fill="#000" />
<rect x="1194" y="788" width="3" height="1" fill="#000" />
<rect x="1200" y="788" width="3" height="1" fill="#000" />
<rect x="1206" y="788" width="3" height="1" fill="#000" />
<rect x="1212" y="788" width="3" height="1" fill="#000" />
<rect x="1218" y="788" width="3" height="1" fill="#000" />
<rect x="1224" y="788" width="3" height="1" fill="#000" />
<rect x="1230" y="788" width="3" height="1" fill="#000" />
<rect x="1236" y="788" width="3" height="1" fill="#000" />
<rect x="1242" y="788" width="3" height="1" fill="#000" />
<rect x="1248" y="788" width="3" height="1" fill="#000" />
<rect x="1254" y="788" width="3" height="1" fill="#000" />
<rect x="1260" y="788" width="3" height="1" fill="#000" />
<rect x="1266" y="788" width="3" height="1" fill="#000" />
<rect x="1272" y="788" width="3" height="1" fill="#000" />
<rect x="1278" y="788" width="3" height="1" fill="#000" />
<rect x="1284" y="788" width="3" height="1" fill="#000" />
<rect x="1290" y="788" width="3" height="1" fill="#000" />
<rect x="1296" y="788" width="3" height="1" fill="#000" />
<rect x="1302" y="788" width="3" height="1" fill="#000" />
<rect x="1308" y="788" width="3" height="1" fill="#000" />
<rect x="1314" y="788" width="3" height="1" fill="#000" />
<rect x="1320" y="788" width="3" height="1" fill="#000" />
<rect x="1326" y="788" width="3" height="1" fill="#000" />
<rect x="1332" y="788" width="3" height="1" fill="#000" />
<rect x="1338" y="788" width="3" height="1" fill="#000" />
<rect x="1344" y="788" width="3" height="1" fill="#000" />
<rect x="1350" y="788" width="3" height="1" fill="#000" />
<rect x="1356" y="788" width="3" height="1" fill="#000" />
<rect x="1362" y="788" width="3" height="1" fill="#000" />
<rect x="1368" y="788" width="3" height="1" fill="#000" />
<rect x="1374" y="788" width="3" height="1" fill="#000" />
<rect x="1380" y="788" width="3" height="1" fill="#000" />
<rect x="1386" y="788" width="3" height="1" fill="#000" />
<rect x="1392" y="788" width="3" height="1" fill="#000" />
<rect x="1398" y="788" width="3" height="1" fill="#000" />
<rect x="1404" y="788" width="3" height="1" fill="#000" />
<rect x="1410" y="788" width="3" height="1" fill="#000" />
<rect x="1416" y="788" width="3" height="1" fill="#000" />
<rect x="1422" y="788" width="3" height="1" fill="#000" />
<rect x="1428" y="788" width="3" height="1" fill="#000" />
<rect x="1434" y="788" width="3" height="1" fill="#000" />
<rect x="1440" y="788" width="3" height="1" fill="#000" />
<rect x="1446" y="788" width="3" height="1" fill="#000" />
<rect x="1452" y="788" width="3" height="1" fill="#000" />
<rect x="1458" y="788" width="3" height="1" fill="#000" />
<rect x="1464" y="788" width="3" height="1" fill="#000" />
<rect x="1470" y="788" width="3" height="1" fill="#000" />
<rect x="1476" y="788" width="3" height="1" fill="#000" />
<rect x="1482" y="788" width="3" height="1" fill="#000" />
<rect x="1488" y="788" width="3" height="1" fill="#000" />
<rect x="1494" y="788" width="3" height="1" fill="#000" />
<rect x="1500" y="788" width="3" height="1" fill="#000" />
<rect x="1506" y="788" width="3" height="1" fill="#000" />
<rect x="1512" y="788" width="3" height="1" fill="#000" />
<rect x="1518" y="788" width="3" height="1" fill="#000" />
<rect x="1524" y="788" width="3" height="1" fill="#000" />
<rect x="1530" y="788" width="3" height="1" fill="#000" />
<rect x="1536" y="788" width="3" height="1" fill="#000" />
<rect x="1542" y="788" width="3" height="1" fill="#000" />
<rect x="1548" y="788" width="3" height="1" fill="#000" />
<rect x="1554" y="788" width="3" height="1" fill="#000" />
<rect x="1560" y="788" width="3" height="1" fill="#000" />
<rect x="1566" y="788" width="3" height="1" fill="#000" />
<rect x="1572" y="788" width="3" height="1" fill="#000" />
<rect x="1578" y="788" width="3" height="1" fill="#000" />
<rect x="1584" y="788" width="3" height="1" fill="#000" />
<rect x="1590" y="788" width="3" height="1" fill="#000" />
<rect x="1596" y="788" width="3" height="1" fill="#000" />
<rect x="1602" y="788" width="3" height="1" fill="#000" />
<rect x="1608" y="788" width="3" height="1" fill="#000" />
<rect x="1614" y="788" width="3" height="1" fill="#000" />
<rect x="1620" y="788" width="3" height="1" fill="#000" />
<rect x="1626" y="788" width="3" height="1" fill="#000" />
<rect x="1632" y="788" width="3" height="1" fill="#000" />
<rect x="1638" y="788" width="3" height="1" fill="#000" />
<rect x="6" y="828" width="3" height="1" fill="#000" />
<rect x="12" y="828" width="3" height="1" fill="#000" />
<rect x="18" y="828" width="3" height="1" fill="#000" />
<rect x="24" y="828" width="3" height="1" fill="#000" />
<rect x="30" y="828" width="3" height="1" fill="#000" />
<rect x="36" y="828" width="3" height="1" fill="#000" />
<rect x="42" y="828" width="3" height="1" fill="#000" />
<rect x="48" y="828" width="3" height="1" fill="#000" />
<rect x="54" y="828" width="3" height="1" fill="#000" />
<rect x="60" y="828" width="3" height="1" fill="#000" />
<rect x="66" y="828" width="3" height="1" fill="#000" />
<rect x="72" y="828" width="3" height="1" fill="#000" />
<rect x="78" y="828" width="3" height="1" fill="#000" />
<rect x="84" y="828" width="3" height="1" fill="#000" />
<rect x="90" y="828" width="3" height="1" fill="#000" />
<rect x="96" y="828" width="3" height="1" fill="#000" />
<rect x="102" y="828" width="3" height="1" fill="#000" />
<rect x="108" y="828" width="3" height="1" fill="#000" />
<rect x="114" y="828" width="3" height="1" fill="#000" />
<rect x="120" y="828" width="3" height="1" fill="#000" />
<rect x="126" y="828" width="3" height="1" fill="#000" />
<rect x="132" y="828" width="3" height="1" fill="#000" />
<rect x="138" y="828" width="3" height="1" fill="#000" />
<rect x="144" y="828" width="3" height="1" fill="#000" />
<rect x="150" y="828" width="3" height="1" fill="#000" />
<rect x="156" y="828" width="3" height="1" fill="#000" />
<rect x="162" y="828" width="3" height="1" fill="#000" />
<rect x="168" y="828" width="3" height="1" fill="#000" />
<rect x="174" y="828" width="3" height="1" fill="#000" />
<rect x="180" y="828" width="3" height="1" fill="#000" />
<rect x="186" y="828" width="3" height="1" fill="#000" />
<rect x="192" y="828" width="3" height="1" fill="#000" />
<rect x="198" y="828" width="3" height="1" fill="#000" />
<rect x="204" y="828" width="3" height="1" fill="#000" />
<rect x="210" y="828" width="3" height="1" fill="#000" />
<rect x="216" y="828" width="3" height="1" fill="#000" />
<rect x="222" y="828" width="3" height="1" fill="#000" />
<rect x="228" y="828" width="3" height="1" fill="#000" />
<rect x="234" y="828" width="3" height="1" fill="#000" />
<rect x="240" y="828" width="3" height="1" fill="#000" />
<rect x="246" y="828" width="3" height="1" fill="#000" />
<rect x="252" y="828" width="3" height="1" fill="#000" />
<rect x="258" y="828" width="3" height="1" fill="#000" />
<rect x="264" y="828" width="3" height="1" fill="#000" />
<rect x="270" y="828" width="3" height="1" fill="#000" />
<rect x="276" y="828" width="3" height="1" fill="#000" />
<rect x="282" y="828" width="3" height="1" fill="#000" />
<rect x="288" y="828" width="3" height="1" fill="#000" />
<rect x="294" y="828" width="3" height="1" fill="#000" />
<rect x="300" y="828" width="3" height="1" fill="#000" />
<rect x="306" y="828" width="3" height="1" fill="#000" />
<rect x="312" y="828" width="3" height="1" fill="#000" />
<rect x="318" y="828" width="3" height="1" fill="#000" />
<rect x="324" y="828" width="3" height="1" fill="#000" />
<rect x="330" y="828" width="3" height="1" fill="#000" />
<rect x="336" y="828" width="3" height="1" fill="#000" />
<rect x="342" y="828" width="3" height="1" fill="#000" />
<rect x="348" y="828" width="3" height="1" fill="#000" />
<rect x="354" y="828" width="3" height="1" fill="#000" />
<rect x="360" y="828" width="3" height="1" fill="#000" />
<rect x="366" y="828" width="3" height="1" fill="#000" />
<rect x="372" y="828" width="3" height="1" fill="#000" />
<rect x="378" y="828" width="3" height="1" fill="#000" />
<rect x="384" y="828" width="3" height="1" fill="#000" />
<rect x="390" y="828" width="3" height="1" fill="#000" />
<rect x="396" y="828" width="3" height="1" fill="#000" />
<rect x="402" y="828" width="3" height="1" fill="#000" />
<rect x="408" y="828" width="3" height="1" fill="#000" />
<rect x="414" y="828" width="3" height="1" fill="#000" />
<rect x="420" y="828" width="3" height="1" fill="#000" />
<rect x="426" y="828" width="3" height="1" fill="#000" />
<rect x="432" y="828" width="3" height="1" fill="#000" />
<rect x="438" y="828" width="3" height="1" fill="#000" />
<rect x="444" y="828" width="3" height="1" fill="#000" />
<rect x="450" y="828" width="3" height="1" fill="#000" />
<rect x="456" y="828" width="3" height="1" fill="#000" />
<rect x="462" y="828" width="3" height="1" fill="#000" />
<rect x="468" y="828" width="3" height="1" fill="#000" />
<rect x="474" y="828" width="3" height="1" fill="#000" />
<rect x="480" y="828" width="3" height="1" fill="#000" />
<rect x="486" y="828" width="3" height="1" fill="#000" />
<rect x="492" y="828" width="3" height="1" fill="#000" />
<rect x="498" y="828" width="3" height="1" fill="#000" />
<rect x="504" y="828" width="3" height="1" fill="#000" />
<rect x="510" y="828" width="3" height="1" fill="#000" />
<rect x="516" y="828" width="3" height="1" fill="#000" />
<rect x="522" y="828" width="3" height="1" fill="#000" />
<rect x="528" y="828" width="3" height="1" fill="#000" />
<rect x="534" y="828" width="3" height="1" fill="#000" />
<rect x="540" y="828" width="3" height="1" fill="#000" />
<rect x="546" y="828" width="3" height="1" fill="#000" />
<rect x="552" y="828" width="3" height="1" fill="#000" />
<rect x="558" y="828" width="3" height="1" fill="#000" />
<rect x="564" y="828" width="3" height="1" fill="#000" />
<rect x="570" y="828" width="3" height="1" fill="#000" />
<rect x="576" y="828" width="3" height="1" fill="#000" />
<rect x="582" y="828" width="3" height="1" fill="#000" />
<rect x="588" y="828" width="3" height="1" fill="#000" />
<rect x="594" y="828" width="3" height="1" fill="#000" />
<rect x="600" y="828" width="3" height="1" fill="#000" />
<rect x="606" y="828" width="3" height="1" fill="#000" />
<rect x="612" y="828" width="3" height="1" fill="#000" />
<rect x="618" y="828" width="3" height="1" fill="#000" />
<rect x="624" y="828" width="3" height="1" fill="#000" />
<rect x="630" y="828" width="3" height="1" fill="#000" />
<rect x="636" y="828" width="3" height="1" fill="#000" />
<rect x="642" y="828" width="3" height="1" fill="#000" />
<rect x="648" y="828" width="3" height="1" fill="#000" />
<rect x="654" y="828" width="3" height="1" fill="#000" />
<rect x="660" y="828" width="3" height="1" fill="#000" />
<rect x="666" y="828" width="3" height="1" fill="#000" />
<rect x="672" y="828" width="3" height="1" fill="#000" />
<rect x="678" y="828" width="3" height="1" fill="#000" />
<rect x="684" y="828" width="3" height="1" fill="#000" />
<rect x="690" y="828" width="3" height="1" fill="#000" />
<rect x="696" y="828" width="3" height="1" fill="#000" />
<rect x="702" y="828" width="3" height="1" fill="#000" />
<rect x="708" y="828" width="3" height="1" fill="#000" />
<rect x="714" y="828" width="3" height="1" fill="#000" />
<rect x="720" y="828" width="3" height="1" fill="#000" />
<rect x="726" y="828" width="3" height="1" fill="#000" />
<rect x="732" y="828" width="3" height="1" fill="#000" />
<rect x="738" y="828" width="3" height="1" fill="#000" />
<rect x="744" y="828" width="3" height="1" fill="#000" />
<rect x="750" y="828" width="3" height="1" fill="#000" />
<rect x="756" y="828" width="3" height="1" fill="#000" />
<rect x="762" y="828" width="3" height="1" fill="#000" />
<rect x="768" y="828" width="3" height="1" fill="#000" />
<rect x="774" y="828" width="3" height="1" fill="#000" />
<rect x="780" y="828" width="3" height="1" fill="#000" />
<rect x="786" y="828" width="3" height="1" fill="#000" />
<rect x="792" y="828" width="3" height="1" fill="#000" />
<rect x="798" y="828" width="3" height="1" fill="#000" />
<rect x="804" y="828" width="3" height="1" fill="#000" />
<rect x="810" y="828" width="3" height="1" fill="#000" />
<rect x="816" y="828" width="3" height="1" fill="#000" />
<rect x="822" y="828" width="3" height="1" fill="#000" />
<rect x="828" y="828" width="3" height="1" fill="#000" />
<rect x="834" y="828" width="3" height="1" fill="#000" />
<rect x="840" y="828" width="3" height="1" fill="#000" />
<rect x="846" y="828" width="3" height="1" fill="#000" />
<rect x="852" y="828" width="3" height="1" fill="#000" />
<rect x="858" y="828" width="3" height="1" fill="#000" />
<rect x="864" y="828" width="3" height="1" fill="#000" />
<rect x="870" y="828" width="3" height="1" fill="#000" />
<rect x="876" y="828" width="3" height="1" fill="#000" />
<rect x="882" y="828" width="3" height="1" fill="#000" />
<rect x="888" y="828" width="3" height="1" fill="#000" />
<rect x="894" y="828" width="3" height="1" fill="#000" />
<rect x="900" y="828" width="3" height="1" fill="#000" />
<rect x="906" y="828" width="3" height="1" fill="#000" />
<rect x="912" y="828" width="3" height="1" fill="#000" />
<rect x="918" y="828" width="3" height="1" fill="#000" />
<rect x="924" y="828" width="3" height="1" fill="#000" />
<rect x="930" y="828" width="3" height="1" fill="#000" />
<rect x="936" y="828" width="3" height="1" fill="#000" />
<rect x="942" y="828" width="3" height="1" fill="#000" />
<rect x="948" y="828" width="3" height="1" fill="#000" />
<rect x="954" y="828" width="3" height="1" fill="#000" />
<rect x="960" y="828" width="3" height="1" fill="#000" />
<rect x="966" y="828" width="3" height="1" fill="#000" />
<rect x="972" y="828" width="3" height="1" fill="#000" />
<rect x="978" y="828" width="3" height="1" fill="#000" />
<rect x="984" y="828" width="3" height="1" fill="#000" />
<rect x="990" y="828" width="3" height="1" fill="#000" />
<rect x="996" y="828" width="3" height="1" fill="#000" />
<rect x="1002" y="828" width="3" height="1" fill="#000" />
<rect x="1008" y="828" width="3" height="1" fill="#000" />
<rect x="1014" y="828" width="3" height="1" fill="#000" />
<rect x="1020" y="828" width="3" height="1" fill="#000" />
<rect x="1026" y="828" width="3" height="1" fill="#000" />
<rect x="1032" y="828" width="3" height="1" fill="#000" />
<rect x="1038" y="828" width="3" height="1" fill="#000" />
<rect x="1044" y="828" width="3" height="1" fill="#000" />
<rect x="1050" y="828" width="3" height="1" fill="#000" />
<rect x="1056" y="828" width="3" height="1" fill="#000" />
<rect x="1062" y="828" width="3" height="1" fill="#000" />
<rect x="1068" y="828" width="3" height="1" fill="#000" />
<rect x="1074" y="828" width="3" height="1" fill="#000" />
<rect x="1080" y="828" width="3" height="1" fill="#000" />
<rect x="1086" y="828" width="3" height="1" fill="#000" />
<rect x="1092" y="828" width="3" height="1" fill="#000" />
<rect x="1098" y="828" width="3" height="1" fill="#000" />
<rect x="1104" y="828" width="3" height="1" fill="#000" />
<rect x="1110" y="828" width="3" height="1" fill="#000" />
<rect x="1116" y="828" width="3" height="1" fill="#000" />
<rect x="1122" y="828" width="3" height="1" fill="#000" />
<rect x="1128" y="828" width="3" height="1" fill="#000" />
<rect x="1134" y="828" width="3" height="1" fill="#000" />
<rect x="1140" y="828" width="3" height="1" fill="#000" />
<rect x="1146" y="828" width="3" height="1" fill="#000" />
<rect x="1152" y="828" width="3" height="1" fill="#000" />
<rect x="1158" y="828" width="3" height="1" fill="#000" />
<rect x="1164" y="828" width="3" height="1" fill="#000" />
<rect x="1170" y="828" width="3" height="1" fill="#000" />
<rect x="1176" y="828" width="3" height="1" fill="#000" />
<rect x="1182" y="828" width="3" height="1" fill="#000" />
<rect x="1188" y="828" width="3" height="1" fill="#000" />
<rect x="1194" y="828" width="3" height="1" fill="#000" />
<rect x="1200" y="828" width="3" height="1" fill="#000" />
<rect x="1206" y="828" width="3" height="1" fill="#000" />
<rect x="1212" y="828" width="3" height="1" fill="#000" />
<rect x="1218" y="828" width="3" height="1" fill="#000" />
<rect x="1224" y="828" width="3" height="1" fill="#000" />
<rect x="1230" y="828" width="3" height="1" fill="#000" />
<rect x="1236" y="828" width="3" height="1" fill="#000" />
<rect x="1242" y="828" width="3" height="1" fill="#000" />
<rect x="1248" y="828" width="3" height="1" fill="#000" />
<rect x="1254" y="828" width="3" height="1" fill="#000" />
<rect x="1260" y="828" width="3" height="1" fill="#000" />
<rect x="1266" y="828" width="3" height="1" fill="#000" />
<rect x="1272" y="828" width="3" height="1" fill="#000" />
<rect x="1278" y="828" width="3" height="1" fill="#000" />
<rect x="1284" y="828" width="3" height="1" fill="#000" />
<rect x="1290" y="828" width="3" height="1" fill="#000" />
<rect x="1296" y="828" width="3" height="1" fill="#000" />
<rect x="1302" y="828" width="3" height="1" fill="#000" />
<rect x="1308" y="828" width="3" height="1" fill="#000" />
<rect x="1314" y="828" width="3" height="1" fill="#000" />
<rect x="1320" y="828" width="3" height="1" fill="#000" />
<rect x="1326" y="828" width="3" height="1" fill="#000" />
<rect x="1332" y="828" width="3" height="1" fill="#000" />
<rect x="1338" y="828" width="3" height="1" fill="#000" />
<rect x="1344" y="828" width="3" height="1" fill="#000" />
<rect x="1350" y="828" width="3" height="1" fill="#000" />
<rect x="1356" y="828" width="3" height="1" fill="#000" />
<rect x="1362" y="828" width="3" height="1" fill="#000" />
<rect x="1368" y="828" width="3" height="1" fill="#000" />
<rect x="1374" y="828" width="3" height="1" fill="#000" />
<rect x="1380" y="828" width="3" height="1" fill="#000" />
<rect x="1386" y="828" width="3" height="1" fill="#000" />
<rect x="1392" y="828" width="3" height="1" fill="#000" />
<rect x="1398" y="828" width="3" height="1" fill="#000" />
<rect x="1404" y="828" width="3" height="1" fill="#000" />
<rect x="1410" y="828" width="3" height="1" fill="#000" />
<rect x="1416" y="828" width="3" height="1" fill="#000" />
<rect x="1422" y="828" width="3" height="1" fill="#000" />
<rect x="1428" y="828" width="3" height="1" fill="#000" />
<rect x="1434" y="828" width="3" height="1" fill="#000" />
<rect x="1440" y="828" width="3" height="1" fill="#000" />
<rect x="1446" y="828" width="3" height="1" fill="#000" />
<rect x="1452" y="828" width="3" height="1" fill="#000" />
<rect x="1458" y="828" width="3" height="1" fill="#000" />
<rect x="1464" y="828" width="3" height="1" fill="#000" />
<rect x="1470" y="828" width="3" height="1" fill="#000" />
<rect x="1476" y="828" width="3" height="1" fill="#000" />
<rect x="1482" y="828" width="3" height="1" fill="#000" />
<rect x="1488" y="828" width="3" height="1" fill="#000" />
<rect x="1494" y="828" width="3" height="1" fill="#000" />
<rect x="1500" y="828" width="3" height="1" fill="#000" />
<rect x="1506" y="828" width="3" height="1" fill="#000" />
<rect x="1512" y="828" width="3" height="1" fill="#000" />
<rect x="1518" y="828" width="3" height="1" fill="#000" />
<rect x="1524" y="828" width="3" height="1" fill="#000" />
<rect x="1530" y="828" width="3" height="1" fill="#000" />
<rect x="1536" y="828" width="3" height="1" fill="#000" />
<rect x="1542" y="828" width="3" height="1" fill="#000" />
<rect x="1548" y="828" width="3" height="1" fill="#000" />
<rect x="1554" y="828" width="3" height="1" fill="#000" />
<rect x="1560" y="828" width="3" height="1" fill="#000" />
<rect x="1566" y="828" width="3" height="1" fill="#000" />
<rect x="1572" y="828" width="3" height="1" fill="#000" />
<rect x="1578" y="828" width="3" height="1" fill="#000" />
<rect x="1584" y="828" width="3" height="1" fill="#000" />
<rect x="1590" y="828" width="3" height="1" fill="#000" />
<rect x="1596" y="828" width="3" height="1" fill="#000" />
<rect x="1602" y="828" width="3" height="1" fill="#000" />
<rect x="1608" y="828" width="3" height="1" fill="#000" />
<rect x="1614" y="828" width="3" height="1" fill="#000" />
<rect x="1620" y="828" width="3" height="1" fill="#000" />
<rect x="1626" y="828" width="3" height="1" fill="#000" />
<rect x="1632" y="828" width="3" height="1" fill="#000" />
<rect x="1638" y="828" width="3" height="1" fill="#000" />
</g>
<polyline points="5,783 21,783 37,783 53,776 69,776 85,776 101,775 117,782 133,781 149,767 165,767 181,767 197,768 213,761 229,763 245,759 261,759 277,758 293,764 309,764 325,769 341,783 357,786 373,787 389,783 405,790 421,789 437,793 453,789 469,789 485,788 501,793 517,793 533,800 549,800 565,800 581,796 597,790 613,790 629,800 645,799 661,799 677,796 693,797 709,794 725,798 741,805 757,806 773,804 789,809 805,813 821,810 837,810 853,810 869,805 885,805 901,798 917,779 933,774 949,777 965,777 981,778 997,772 1013,771 1029,768 1045,769 1061,770 1077,773 1093,773 1109,765 1125,765 1141,765 1157,766 1173,768 1189,771 1205,777 1221,784 1237,781 1253,781 1269,786 1285,796 1301,768 1317,768 1333,768 1349,768 1365,763 1381,760.5 1397,758 1413,757.5" fill="none" stroke="#1e90ff" stroke-width="2" shape-rendering="crispEdges"/>
<text x="8" y="744" font-size="9.8" fill="#000" textLength="70" lengthAdjust="spacingAndGlyphs" >RSI(14)&#160;78.5484</text>
<g shape-rendering="crispEdges">
<rect x="1642" y="733" width="1" height="1" fill="#000" />
<rect x="1642" y="844" width="1" height="1" fill="#000" />
</g>
<text x="1644" y="742" font-size="9.8" fill="#000" textLength="16" lengthAdjust="spacingAndGlyphs" >100</text>
<text x="1645" y="759" font-size="9.8" fill="#000" textLength="9" lengthAdjust="spacingAndGlyphs" >80</text>
<text x="1645" y="792" font-size="9.8" fill="#000" textLength="9" lengthAdjust="spacingAndGlyphs" >50</text>
<text x="1645" y="832" font-size="9.8" fill="#000" textLength="9" lengthAdjust="spacingAndGlyphs" >15</text>
<text x="1645" y="842" font-size="9.8" fill="#000" textLength="5" lengthAdjust="spacingAndGlyphs" >0</text>
<g shape-rendering="crispEdges">
<rect x="5" y="846" width="1" height="3" fill="#000" />
<rect x="69" y="846" width="1" height="3" fill="#000" />
<rect x="133" y="846" width="1" height="3" fill="#000" />
<rect x="197" y="846" width="1" height="3" fill="#000" />
<rect x="261" y="846" width="1" height="3" fill="#000" />
<rect x="325" y="846" width="1" height="3" fill="#000" />
<rect x="389" y="846" width="1" height="3" fill="#000" />
<rect x="453" y="846" width="1" height="3" fill="#000" />
<rect x="517" y="846" width="1" height="3" fill="#000" />
<rect x="581" y="846" width="1" height="3" fill="#000" />
<rect x="645" y="846" width="1" height="3" fill="#000" />
<rect x="709" y="846" width="1" height="3" fill="#000" />
<rect x="773" y="846" width="1" height="3" fill="#000" />
<rect x="837" y="846" width="1" height="3" fill="#000" />
<rect x="901" y="846" width="1" height="3" fill="#000" />
<rect x="965" y="846" width="1" height="3" fill="#000" />
<rect x="1029" y="846" width="1" height="3" fill="#000" />
<rect x="1093" y="846" width="1" height="3" fill="#000" />
<rect x="1157" y="846" width="1" height="3" fill="#000" />
<rect x="1221" y="846" width="1" height="3" fill="#000" />
<rect x="1285" y="846" width="1" height="3" fill="#000" />
<rect x="1349" y="846" width="1" height="3" fill="#000" />
<rect x="1413" y="846" width="1" height="3" fill="#000" />
</g>
<text x="3" y="858" font-size="9.8" fill="#000" textLength="53" lengthAdjust="spacingAndGlyphs" >24&#160;Oct&#160;2022</text>
<text x="67" y="858" font-size="9.8" fill="#000" textLength="56" lengthAdjust="spacingAndGlyphs" >24&#160;Oct&#160;16:00</text>
<text x="131" y="858" font-size="9.8" fill="#000" textLength="56" lengthAdjust="spacingAndGlyphs" >25&#160;Oct&#160;08:00</text>
<text x="195" y="858" font-size="9.8" fill="#000" textLength="56" lengthAdjust="spacingAndGlyphs" >26&#160;Oct&#160;00:00</text>
<text x="259" y="858" font-size="9.8" fill="#000" textLength="56" lengthAdjust="spacingAndGlyphs" >26&#160;Oct&#160;16:00</text>
<text x="323" y="858" font-size="9.8" fill="#000" textLength="56" lengthAdjust="spacingAndGlyphs" >27&#160;Oct&#160;08:00</text>
<text x="387" y="858" font-size="9.8" fill="#000" textLength="56" lengthAdjust="spacingAndGlyphs" >28&#160;Oct&#160;00:00</text>
<text x="451" y="858" font-size="9.8" fill="#000" textLength="56" lengthAdjust="spacingAndGlyphs" >28&#160;Oct&#160;16:00</text>
<text x="515" y="858" font-size="9.8" fill="#000" textLength="56" lengthAdjust="spacingAndGlyphs" >31&#160;Oct&#160;08:00</text>
<text x="579" y="858" font-size="9.8" fill="#000" textLength="53" lengthAdjust="spacingAndGlyphs" >1&#160;Nov&#160;00:00</text>
<text x="643" y="858" font-size="9.8" fill="#000" textLength="53" lengthAdjust="spacingAndGlyphs" >1&#160;Nov&#160;16:00</text>
<text x="707" y="858" font-size="9.8" fill="#000" textLength="53" lengthAdjust="spacingAndGlyphs" >2&#160;Nov&#160;08:00</text>
<text x="771" y="858" font-size="9.8" fill="#000" textLength="53" lengthAdjust="spacingAndGlyphs" >3&#160;Nov&#160;00:00</text>
<text x="835" y="858" font-size="9.8" fill="#000" textLength="53" lengthAdjust="spacingAndGlyphs" >3&#160;Nov&#160;16:00</text>
<text x="899" y="858" font-size="9.8" fill="#000" textLength="53" lengthAdjust="spacingAndGlyphs" >4&#160;Nov&#160;08:00</text>
<text x="963" y="858" font-size="9.8" fill="#000" textLength="53" lengthAdjust="spacingAndGlyphs" >7&#160;Nov&#160;00:00</text>
<text x="1027" y="858" font-size="9.8" fill="#000" textLength="53" lengthAdjust="spacingAndGlyphs" >7&#160;Nov&#160;16:00</text>
<text x="1091" y="858" font-size="9.8" fill="#000" textLength="53" lengthAdjust="spacingAndGlyphs" >8&#160;Nov&#160;08:00</text>
<text x="1155" y="858" font-size="9.8" fill="#000" textLength="53" lengthAdjust="spacingAndGlyphs" >9&#160;Nov&#160;00:00</text>
<text x="1219" y="858" font-size="9.8" fill="#000" textLength="53" lengthAdjust="spacingAndGlyphs" >9&#160;Nov&#160;16:00</text>
<text x="1283" y="858" font-size="9.8" fill="#000" textLength="58" lengthAdjust="spacingAndGlyphs" >10&#160;Nov&#160;08:00</text>
<text x="1347" y="858" font-size="9.8" fill="#000" textLength="58" lengthAdjust="spacingAndGlyphs" >11&#160;Nov&#160;00:00</text>
<text x="1411" y="858" font-size="9.8" fill="#000" textLength="58" lengthAdjust="spacingAndGlyphs" >11&#160;Nov&#160;16:00</text>
</g>
</svg>
</body></html>
